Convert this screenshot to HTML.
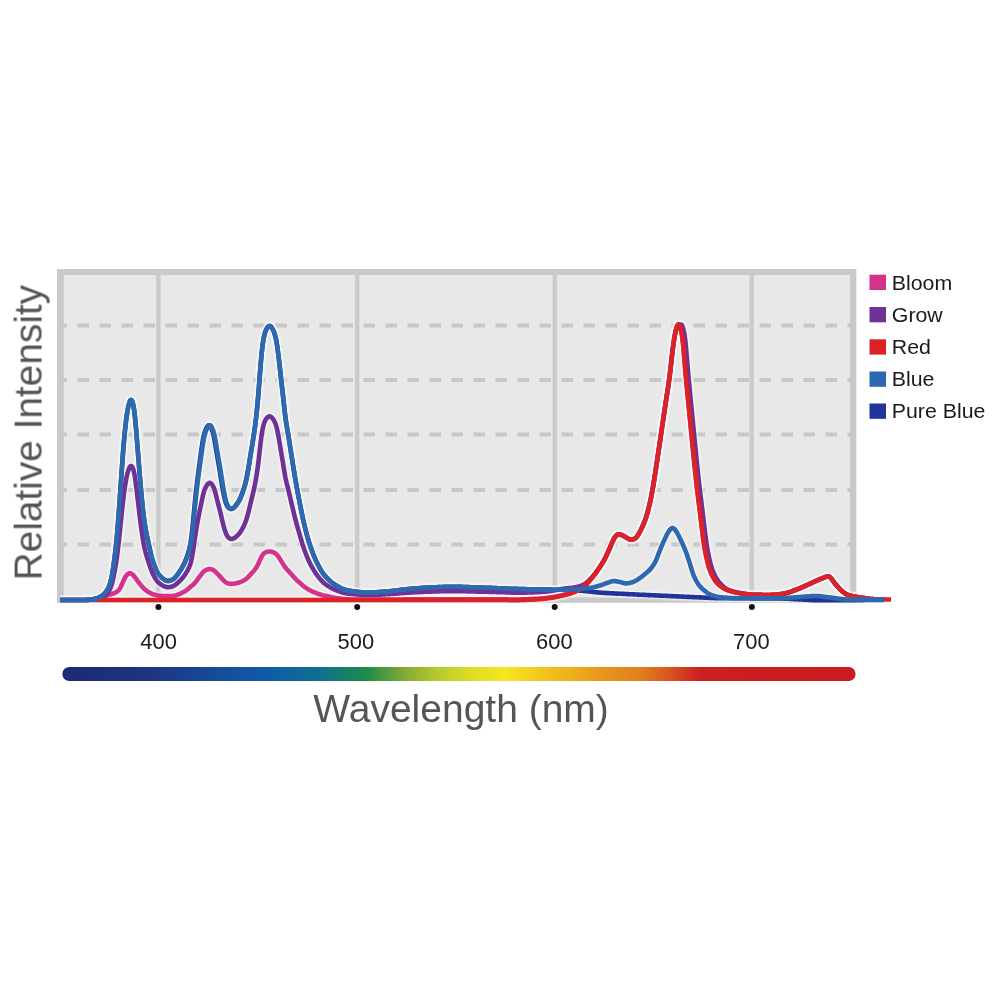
<!DOCTYPE html>
<html lang="en"><head><meta charset="utf-8"><title>Spectrum</title>
<style>
html,body{margin:0;padding:0;background:#fff;}
body{width:1000px;height:1000px;overflow:hidden;}
svg{display:block;font-family:"Liberation Sans",Arial,sans-serif;}
.curves use{fill:none;stroke-width:4.6;stroke-linejoin:round;stroke-linecap:butt;}
.halo use{fill:none;stroke:#fff;stroke-opacity:.4;stroke-width:7;stroke-linejoin:round;stroke-linecap:butt;}
.halo2 use{fill:none;stroke:#fff;stroke-opacity:.22;stroke-width:9.4;stroke-linejoin:round;stroke-linecap:butt;}
.dash line{stroke:#c8c8c8;stroke-width:4.2;stroke-dasharray:11.6 10.4;}
.vg line{stroke:#cbcbcb;stroke-width:4.4;}
.ticks text{font-size:21.5px;fill:#1a1a1a;text-anchor:middle;}
.legend text{font-size:20.4px;fill:#1a1a1a;}
.axis{font-size:39px;fill:#555557;}
</style></head><body>
<svg width="1000" height="1000" viewBox="0 0 1000 1000">
<defs>
<linearGradient id="spec" x1="0" y1="0" x2="1" y2="0" gradientUnits="objectBoundingBox">
<stop offset="0.000" stop-color="#1c2a74"/>
<stop offset="0.111" stop-color="#1d3582"/>
<stop offset="0.192" stop-color="#164b98"/>
<stop offset="0.264" stop-color="#0f5ca8"/>
<stop offset="0.325" stop-color="#0f7090"/>
<stop offset="0.383" stop-color="#1e8a48"/>
<stop offset="0.436" stop-color="#8aae34"/>
<stop offset="0.476" stop-color="#b8cc2c"/>
<stop offset="0.514" stop-color="#dcdc26"/>
<stop offset="0.558" stop-color="#f5e61f"/>
<stop offset="0.627" stop-color="#f0b81c"/>
<stop offset="0.678" stop-color="#e8981c"/>
<stop offset="0.728" stop-color="#e0801e"/>
<stop offset="0.769" stop-color="#d8501f"/>
<stop offset="0.804" stop-color="#cc1f22"/>
<stop offset="1.000" stop-color="#cb1b20"/>
</linearGradient>
<path id="c-pure" d="M60,600 60.5,600 61,600 61.5,600 62,600 62.5,600 63,600 63.5,600 64,600 64.5,600 65,600 65.5,600 66,600 66.5,600 67,600 67.5,600 68,600 68.5,600 69,600 69.5,600 70,600 70.5,600 71,600 71.5,600 72,600 72.5,600 73,600 73.5,600 74,600 74.5,600 75,600 75.5,600 76,600 76.5,600 77,600 77.5,600 78,600 78.5,600 79,600 79.5,600 80,600 80.5,600 81,600 81.5,600 82,600 82.5,600 83,600 83.5,600 84,600 84.5,600 85,600 85.5,600 86,600 86.5,600 87,599.9 87.5,599.9 88,599.9 88.5,599.8 89,599.8 89.5,599.7 90,599.6 90.5,599.6 91,599.5 91.5,599.4 92,599.3 92.5,599.3 93,599.2 93.5,599.1 94,599 94.5,598.9 95,598.8 95.5,598.7 96,598.5 96.5,598.4 97,598.3 97.5,598.1 98,597.9 98.5,597.7 99,597.5 99.5,597.3 100,597 100.5,596.7 101,596.5 101.5,596.2 102,595.8 102.5,595.4 103,595 103.5,594.6 104,594.1 104.5,593.6 105,593 105.5,592.4 106,591.8 106.5,591.1 107,590.3 107.5,589.5 108,588.6 108.5,587.5 109,586.3 109.5,585 110,583.5 110.5,581.8 111,579.9 111.5,577.6 112,575.1 112.5,572.2 113,569 113.5,565.6 114,562 114.5,558.3 115,554.4 115.5,550.2 116,545.6 116.5,540.7 117,535.3 117.5,529.5 118,523.3 118.5,516.8 119,510 119.5,502.9 120,495.8 120.5,488.6 121,481.3 121.5,474.1 122,466.9 122.5,459.8 123,453 123.5,446.6 124,440.7 124.5,435.2 125,430.2 125.5,425.5 126,421.2 126.5,417.3 127,413.8 127.5,410.7 128,408.1 128.5,405.8 129,403.9 129.5,402.3 130,401 130.5,400.2 131,400 131.5,400.2 132,401 132.5,402.2 133,403.9 133.5,406.1 134,409.1 134.5,412.8 135,417.3 135.5,422.7 136,428.4 136.5,434.5 137,440.6 137.5,446.8 138,453.1 138.5,459.4 139,465.7 139.5,472 140,478.1 140.5,484 141,489.7 141.5,495.2 142,500.5 142.5,505.5 143,510.2 143.5,514.6 144,518.6 144.5,522.1 145,525.4 145.5,528.3 146,531.1 146.5,533.7 147,536.1 147.5,538.5 148,540.8 148.5,543.2 149,545.5 149.5,547.7 150,550 150.5,552.2 151,554.3 151.5,556.3 152,558.1 152.5,559.8 153,561.4 153.5,562.9 154,564.3 154.5,565.7 155,567 155.5,568.2 156,569.4 156.5,570.5 157,571.5 157.5,572.4 158,573.3 158.5,574 159,574.7 159.5,575.3 160,575.8 160.5,576.4 161,576.9 161.5,577.4 162,577.8 162.5,578.3 163,578.7 163.5,579.1 164,579.4 164.5,579.8 165,580.1 165.5,580.3 166,580.5 166.5,580.7 167,580.8 167.5,580.9 168,580.9 168.5,580.9 169,580.8 169.5,580.7 170,580.6 170.5,580.4 171,580.3 171.5,580 172,579.8 172.5,579.6 173,579.3 173.5,578.9 174,578.6 174.5,578.1 175,577.6 175.5,577 176,576.4 176.5,575.8 177,575.1 177.5,574.5 178,573.8 178.5,573.1 179,572.3 179.5,571.6 180,570.9 180.5,570.1 181,569.3 181.5,568.4 182,567.6 182.5,566.7 183,565.7 183.5,564.8 184,563.7 184.5,562.7 185,561.6 185.5,560.4 186,559.2 186.5,557.9 187,556.6 187.5,555.1 188,553.6 188.5,551.9 189,550.1 189.5,548.1 190,545.7 190.5,543.1 191,539.9 191.5,536.2 192,532 192.5,527.3 193,522.3 193.5,517 194,511.7 194.5,506.4 195,501.2 195.5,496.3 196,491.6 196.5,487.2 197,483 197.5,479 198,475.1 198.5,471.2 199,467.5 199.5,463.8 200,460.1 200.5,456.4 201,452.7 201.5,449.1 202,445.6 202.5,442.3 203,439.4 203.5,436.9 204,434.8 204.5,433.1 205,431.5 205.5,430.2 206,428.9 206.5,427.9 207,426.9 207.5,426.2 208,425.6 208.5,425.3 209,425.3 209.5,425.4 210,425.9 210.5,426.5 211,427.4 211.5,428.5 212,429.8 212.5,431.3 213,432.9 213.5,434.9 214,437.3 214.5,440 215,443 215.5,446 216,449 216.5,451.9 217,454.8 217.5,457.7 218,460.6 218.5,463.5 219,466.4 219.5,469.4 220,472.5 220.5,475.6 221,478.8 221.5,482 222,485.1 222.5,488.1 223,490.8 223.5,493.4 224,495.8 224.5,498 225,499.9 225.5,501.7 226,503.2 226.5,504.5 227,505.6 227.5,506.4 228,507.1 228.5,507.7 229,508.1 229.5,508.5 230,508.7 230.5,508.9 231,508.9 231.5,508.8 232,508.7 232.5,508.5 233,508.2 233.5,507.8 234,507.3 234.5,506.8 235,506.3 235.5,505.6 236,505 236.5,504.3 237,503.6 237.5,502.9 238,502.2 238.5,501.4 239,500.5 239.5,499.6 240,498.5 240.5,497.4 241,496.2 241.5,494.9 242,493.6 242.5,492.2 243,490.8 243.5,489.3 244,487.7 244.5,486.1 245,484.3 245.5,482.4 246,480.3 246.5,478 247,475.5 247.5,472.9 248,470.1 248.5,467.1 249,464.1 249.5,461 250,457.9 250.5,454.8 251,451.8 251.5,448.9 252,445.9 252.5,442.8 253,439.7 253.5,436.5 254,433.2 254.5,429.8 255,426.1 255.5,422.2 256,418 256.5,413.6 257,408.8 257.5,403.6 258,398 258.5,392 259,385.6 259.5,379 260,372.5 260.5,366.2 261,360.3 261.5,354.8 262,349.9 262.5,345.7 263,342.1 263.5,339 264,336.5 264.5,334.5 265,332.7 265.5,331.3 266,330 266.5,329 267,328.1 267.5,327.4 268,326.7 268.5,326.3 269,326 269.5,325.9 270,326 270.5,326.3 271,326.7 271.5,327.3 272,328.1 272.5,328.9 273,329.8 273.5,330.9 274,332.1 274.5,333.6 275,335.2 275.5,337.1 276,339.3 276.5,341.9 277,344.8 277.5,348.3 278,352 278.5,356 279,360.2 279.5,364.6 280,369 280.5,373.5 281,378 281.5,382.5 282,386.9 282.5,391.3 283,395.8 283.5,400.4 284,405.1 284.5,409.7 285,414 285.5,417.9 286,421.4 286.5,424.6 287,427.6 287.5,430.5 288,433.5 288.5,436.5 289,439.6 289.5,442.8 290,446 290.5,449.2 291,452.4 291.5,455.6 292,458.7 292.5,461.8 293,465 293.5,468.1 294,471.2 294.5,474.2 295,477.3 295.5,480.2 296,483.1 296.5,486 297,488.7 297.5,491.4 298,494 298.5,496.5 299,499.1 299.5,501.6 300,504.1 300.5,506.7 301,509.2 301.5,511.8 302,514.2 302.5,516.6 303,519 303.5,521.2 304,523.4 304.5,525.5 305,527.5 305.5,529.5 306,531.5 306.5,533.4 307,535.3 307.5,537.1 308,538.8 308.5,540.6 309,542.2 309.5,543.8 310,545.3 310.5,546.8 311,548.3 311.5,549.7 312,551 312.5,552.4 313,553.7 313.5,554.9 314,556.1 314.5,557.3 315,558.4 315.5,559.5 316,560.6 316.5,561.7 317,562.7 317.5,563.7 318,564.7 318.5,565.7 319,566.7 319.5,567.6 320,568.5 320.5,569.4 321,570.3 321.5,571.1 322,571.9 322.5,572.7 323,573.4 323.5,574.1 324,574.7 324.5,575.3 325,575.9 325.5,576.5 326,577 326.5,577.6 327,578.1 327.5,578.6 328,579.1 328.5,579.6 329,580 329.5,580.5 330,580.9 330.5,581.4 331,581.8 331.5,582.2 332,582.6 332.5,582.9 333,583.3 333.5,583.7 334,584 334.5,584.3 335,584.7 335.5,585 336,585.3 336.5,585.6 337,585.9 337.5,586.2 338,586.5 338.5,586.8 339,587.1 339.5,587.4 340,587.6 340.5,587.9 341,588.2 341.5,588.4 342,588.6 342.5,588.9 343,589.1 343.5,589.3 344,589.4 344.5,589.6 345,589.7 345.5,589.9 346,590 346.5,590.1 347,590.2 347.5,590.3 348,590.4 348.5,590.5 349,590.6 349.5,590.7 350,590.7 350.5,590.8 351,590.9 351.5,591 352,591.1 352.5,591.2 353,591.2 353.5,591.3 354,591.4 354.5,591.5 355,591.5 355.5,591.6 356,591.7 356.5,591.7 357,591.8 357.5,591.8 358,591.9 358.5,592 359,592 359.5,592.1 360,592.1 360.5,592.2 361,592.2 361.5,592.2 362,592.3 362.5,592.3 363,592.3 363.5,592.4 364,592.4 364.5,592.4 365,592.4 365.5,592.5 366,592.5 366.5,592.5 367,592.5 367.5,592.5 368,592.5 368.5,592.5 369,592.5 369.5,592.5 370,592.5 370.5,592.5 371,592.5 371.5,592.4 372,592.4 372.5,592.4 373,592.4 373.5,592.4 374,592.3 374.5,592.3 375,592.3 375.5,592.3 376,592.2 376.5,592.2 377,592.2 377.5,592.1 378,592.1 378.5,592.1 379,592 379.5,592 380,592 380.5,591.9 381,591.9 381.5,591.9 382,591.8 382.5,591.8 383,591.7 383.5,591.7 384,591.7 384.5,591.6 385,591.6 385.5,591.6 386,591.5 386.5,591.5 387,591.4 387.5,591.4 388,591.4 388.5,591.3 389,591.3 389.5,591.2 390,591.2 390.5,591.1 391,591.1 391.5,591 392,590.9 392.5,590.9 393,590.8 393.5,590.8 394,590.7 394.5,590.7 395,590.6 395.5,590.5 396,590.5 396.5,590.4 397,590.4 397.5,590.3 398,590.2 398.5,590.2 399,590.1 399.5,590 400,590 400.5,589.9 401,589.9 401.5,589.8 402,589.7 402.5,589.7 403,589.6 403.5,589.6 404,589.5 404.5,589.5 405,589.4 405.5,589.3 406,589.3 406.5,589.2 407,589.2 407.5,589.1 408,589.1 408.5,589 409,589 409.5,588.9 410,588.9 410.5,588.9 411,588.8 411.5,588.8 412,588.7 412.5,588.7 413,588.6 413.5,588.6 414,588.6 414.5,588.5 415,588.5 415.5,588.4 416,588.4 416.5,588.4 417,588.3 417.5,588.3 418,588.2 418.5,588.2 419,588.2 419.5,588.1 420,588.1 420.5,588.1 421,588 421.5,588 422,588 422.5,587.9 423,587.9 423.5,587.9 424,587.8 424.5,587.8 425,587.8 425.5,587.7 426,587.7 426.5,587.7 427,587.6 427.5,587.6 428,587.6 428.5,587.6 429,587.5 429.5,587.5 430,587.5 430.5,587.5 431,587.5 431.5,587.4 432,587.4 432.5,587.4 433,587.4 433.5,587.3 434,587.3 434.5,587.3 435,587.3 435.5,587.3 436,587.2 436.5,587.2 437,587.2 437.5,587.2 438,587.1 438.5,587.1 439,587.1 439.5,587.1 440,587.1 440.5,587 441,587 441.5,587 442,587 442.5,587 443,587 443.5,586.9 444,586.9 444.5,586.9 445,586.9 445.5,586.9 446,586.9 446.5,586.9 447,586.9 447.5,586.8 448,586.8 448.5,586.8 449,586.8 449.5,586.8 450,586.8 450.5,586.8 451,586.8 451.5,586.8 452,586.8 452.5,586.8 453,586.8 453.5,586.8 454,586.8 454.5,586.8 455,586.8 455.5,586.8 456,586.8 456.5,586.8 457,586.8 457.5,586.8 458,586.9 458.5,586.9 459,586.9 459.5,586.9 460,586.9 460.5,586.9 461,586.9 461.5,586.9 462,586.9 462.5,586.9 463,587 463.5,587 464,587 464.5,587 465,587 465.5,587 466,587 466.5,587.1 467,587.1 467.5,587.1 468,587.1 468.5,587.1 469,587.1 469.5,587.2 470,587.2 470.5,587.2 471,587.2 471.5,587.2 472,587.2 472.5,587.3 473,587.3 473.5,587.3 474,587.3 474.5,587.3 475,587.3 475.5,587.4 476,587.4 476.5,587.4 477,587.4 477.5,587.4 478,587.4 478.5,587.5 479,587.5 479.5,587.5 480,587.5 480.5,587.5 481,587.5 481.5,587.5 482,587.6 482.5,587.6 483,587.6 483.5,587.6 484,587.6 484.5,587.7 485,587.7 485.5,587.7 486,587.7 486.5,587.7 487,587.7 487.5,587.8 488,587.8 488.5,587.8 489,587.8 489.5,587.8 490,587.9 490.5,587.9 491,587.9 491.5,587.9 492,588 492.5,588 493,588 493.5,588 494,588 494.5,588.1 495,588.1 495.5,588.1 496,588.1 496.5,588.1 497,588.2 497.5,588.2 498,588.2 498.5,588.2 499,588.3 499.5,588.3 500,588.3 500.5,588.3 501,588.3 501.5,588.4 502,588.4 502.5,588.4 503,588.4 503.5,588.5 504,588.5 504.5,588.5 505,588.5 505.5,588.5 506,588.6 506.5,588.6 507,588.6 507.5,588.6 508,588.6 508.5,588.7 509,588.7 509.5,588.7 510,588.7 510.5,588.7 511,588.7 511.5,588.8 512,588.8 512.5,588.8 513,588.8 513.5,588.8 514,588.8 514.5,588.9 515,588.9 515.5,588.9 516,588.9 516.5,588.9 517,588.9 517.5,588.9 518,589 518.5,589 519,589 519.5,589 520,589 520.5,589 521,589 521.5,589 522,589.1 522.5,589.1 523,589.1 523.5,589.1 524,589.1 524.5,589.1 525,589.1 525.5,589.1 526,589.1 526.5,589.2 527,589.2 527.5,589.2 528,589.2 528.5,589.2 529,589.2 529.5,589.2 530,589.2 530.5,589.2 531,589.2 531.5,589.3 532,589.3 532.5,589.3 533,589.3 533.5,589.3 534,589.3 534.5,589.3 535,589.3 535.5,589.3 536,589.3 536.5,589.4 537,589.4 537.5,589.4 538,589.4 538.5,589.4 539,589.4 539.5,589.4 540,589.4 540.5,589.4 541,589.4 541.5,589.4 542,589.5 542.5,589.5 543,589.5 543.5,589.5 544,589.5 544.5,589.5 545,589.5 545.5,589.5 546,589.5 546.5,589.5 547,589.5 547.5,589.6 548,589.6 548.5,589.6 549,589.6 549.5,589.6 550,589.6 550.5,589.6 551,589.6 551.5,589.6 552,589.6 552.5,589.7 553,589.7 553.5,589.7 554,589.7 554.5,589.7 555,589.7 555.5,589.7 556,589.7 556.5,589.7 557,589.7 557.5,589.7 558,589.8 558.5,589.8 559,589.8 559.5,589.8 560,589.8 560.5,589.8 561,589.8 561.5,589.8 562,589.8 562.5,589.8 563,589.8 563.5,589.8 564,589.9 564.5,589.9 565,589.9 565.5,589.9 566,589.9 566.5,589.9 567,589.9 567.5,589.9 568,589.9 568.5,590 569,590 569.5,590 570,590 570.5,590 571,590 571.5,590.1 572,590.1 572.5,590.1 573,590.1 573.5,590.2 574,590.2 574.5,590.2 575,590.2 575.5,590.3 576,590.3 576.5,590.3 577,590.4 577.5,590.4 578,590.5 578.5,590.5 579,590.5 579.5,590.6 580,590.6 580.5,590.6 581,590.7 581.5,590.7 582,590.8 582.5,590.8 583,590.9 583.5,590.9 584,591 584.5,591 585,591.1 585.5,591.1 586,591.2 586.5,591.2 587,591.3 587.5,591.3 588,591.4 588.5,591.4 589,591.5 589.5,591.5 590,591.6 590.5,591.7 591,591.7 591.5,591.8 592,591.8 592.5,591.9 593,591.9 593.5,592 594,592 594.5,592.1 595,592.2 595.5,592.2 596,592.3 596.5,592.3 597,592.4 597.5,592.4 598,592.4 598.5,592.5 599,592.5 599.5,592.6 600,592.6 600.5,592.6 601,592.7 601.5,592.7 602,592.7 602.5,592.8 603,592.8 603.5,592.8 604,592.9 604.5,592.9 605,592.9 605.5,593 606,593 606.5,593 607,593.1 607.5,593.1 608,593.1 608.5,593.1 609,593.2 609.5,593.2 610,593.2 610.5,593.2 611,593.3 611.5,593.3 612,593.3 612.5,593.4 613,593.4 613.5,593.4 614,593.4 614.5,593.5 615,593.5 615.5,593.5 616,593.5 616.5,593.6 617,593.6 617.5,593.6 618,593.6 618.5,593.7 619,593.7 619.5,593.7 620,593.7 620.5,593.7 621,593.8 621.5,593.8 622,593.8 622.5,593.8 623,593.9 623.5,593.9 624,593.9 624.5,593.9 625,594 625.5,594 626,594 626.5,594 627,594.1 627.5,594.1 628,594.1 628.5,594.1 629,594.2 629.5,594.2 630,594.2 630.5,594.2 631,594.2 631.5,594.3 632,594.3 632.5,594.3 633,594.3 633.5,594.4 634,594.4 634.5,594.4 635,594.4 635.5,594.5 636,594.5 636.5,594.5 637,594.5 637.5,594.6 638,594.6 638.5,594.6 639,594.6 639.5,594.7 640,594.7 640.5,594.7 641,594.7 641.5,594.8 642,594.8 642.5,594.8 643,594.8 643.5,594.8 644,594.9 644.5,594.9 645,594.9 645.5,594.9 646,595 646.5,595 647,595 647.5,595 648,595.1 648.5,595.1 649,595.1 649.5,595.1 650,595.1 650.5,595.2 651,595.2 651.5,595.2 652,595.2 652.5,595.3 653,595.3 653.5,595.3 654,595.3 654.5,595.4 655,595.4 655.5,595.4 656,595.4 656.5,595.4 657,595.5 657.5,595.5 658,595.5 658.5,595.5 659,595.6 659.5,595.6 660,595.6 660.5,595.6 661,595.6 661.5,595.7 662,595.7 662.5,595.7 663,595.7 663.5,595.8 664,595.8 664.5,595.8 665,595.8 665.5,595.8 666,595.9 666.5,595.9 667,595.9 667.5,595.9 668,596 668.5,596 669,596 669.5,596 670,596 670.5,596.1 671,596.1 671.5,596.1 672,596.1 672.5,596.2 673,596.2 673.5,596.2 674,596.2 674.5,596.3 675,596.3 675.5,596.3 676,596.3 676.5,596.3 677,596.4 677.5,596.4 678,596.4 678.5,596.4 679,596.5 679.5,596.5 680,596.5 680.5,596.5 681,596.5 681.5,596.6 682,596.6 682.5,596.6 683,596.6 683.5,596.7 684,596.7 684.5,596.7 685,596.7 685.5,596.8 686,596.8 686.5,596.8 687,596.8 687.5,596.8 688,596.9 688.5,596.9 689,596.9 689.5,596.9 690,597 690.5,597 691,597 691.5,597 692,597 692.5,597.1 693,597.1 693.5,597.1 694,597.1 694.5,597.2 695,597.2 695.5,597.2 696,597.2 696.5,597.2 697,597.3 697.5,597.3 698,597.3 698.5,597.3 699,597.4 699.5,597.4 700,597.4 700.5,597.4 701,597.4 701.5,597.5 702,597.5 702.5,597.5 703,597.5 703.5,597.6 704,597.6 704.5,597.6 705,597.6 705.5,597.7 706,597.7 706.5,597.7 707,597.7 707.5,597.8 708,597.8 708.5,597.8 709,597.8 709.5,597.9 710,597.9 710.5,597.9 711,597.9 711.5,597.9 712,598 712.5,598 713,598 713.5,598 714,598 714.5,598.1 715,598.1 715.5,598.1 716,598.1 716.5,598.1 717,598.1 717.5,598.2 718,598.2 718.5,598.2 719,598.2 719.5,598.2 720,598.2 720.5,598.2 721,598.2 721.5,598.2 722,598.2 722.5,598.2 723,598.2 723.5,598.2 724,598.2 724.5,598.2 725,598.2 725.5,598.2 726,598.3 726.5,598.3 727,598.3 727.5,598.3 728,598.3 728.5,598.3 729,598.3 729.5,598.3 730,598.3 730.5,598.3 731,598.3 731.5,598.3 732,598.3 732.5,598.3 733,598.3 733.5,598.3 734,598.3 734.5,598.3 735,598.3 735.5,598.3 736,598.3 736.5,598.3 737,598.3 737.5,598.3 738,598.3 738.5,598.3 739,598.3 739.5,598.3 740,598.3 740.5,598.3 741,598.3 741.5,598.3 742,598.3 742.5,598.3 743,598.3 743.5,598.3 744,598.3 744.5,598.3 745,598.3 745.5,598.3 746,598.3 746.5,598.3 747,598.3 747.5,598.3 748,598.3 748.5,598.3 749,598.3 749.5,598.3 750,598.3 750.5,598.3 751,598.4 751.5,598.4 752,598.4 752.5,598.4 753,598.4 753.5,598.4 754,598.4 754.5,598.4 755,598.4 755.5,598.4 756,598.4 756.5,598.4 757,598.4 757.5,598.4 758,598.4 758.5,598.4 759,598.4 759.5,598.4 760,598.4 760.5,598.4 761,598.4 761.5,598.4 762,598.4 762.5,598.4 763,598.4 763.5,598.4 764,598.4 764.5,598.4 765,598.4 765.5,598.4 766,598.4 766.5,598.4 767,598.4 767.5,598.4 768,598.4 768.5,598.4 769,598.4 769.5,598.4 770,598.4 770.5,598.4 771,598.4 771.5,598.4 772,598.4 772.5,598.4 773,598.4 773.5,598.4 774,598.4 774.5,598.5 775,598.5 775.5,598.5 776,598.5 776.5,598.5 777,598.5 777.5,598.5 778,598.5 778.5,598.5 779,598.5 779.5,598.5 780,598.5 780.5,598.5 781,598.5 781.5,598.5 782,598.5 782.5,598.5 783,598.6 783.5,598.6 784,598.6 784.5,598.6 785,598.6 785.5,598.6 786,598.7 786.5,598.7 787,598.7 787.5,598.7 788,598.8 788.5,598.8 789,598.8 789.5,598.8 790,598.9 790.5,598.9 791,598.9 791.5,598.9 792,599 792.5,599 793,599 793.5,599.1 794,599.1 794.5,599.1 795,599.1 795.5,599.2 796,599.2 796.5,599.2 797,599.3 797.5,599.3 798,599.3 798.5,599.3 799,599.4 799.5,599.4 800,599.4 800.5,599.4 801,599.4 801.5,599.5 802,599.5 802.5,599.5 803,599.6 803.5,599.6 804,599.6 804.5,599.6 805,599.7 805.5,599.7 806,599.7 806.5,599.8 807,599.8 807.5,599.8 808,599.8 808.5,599.9 809,599.9 809.5,599.9 810,600 810.5,600 811,600 811.5,600 812,600.1 812.5,600.1 813,600.1 813.5,600.1 814,600.2 814.5,600.2 815,600.2 815.5,600.2 816,600.2 816.5,600.2 817,600.3 817.5,600.3 818,600.3 818.5,600.3 819,600.3 819.5,600.3 820,600.3 820.5,600.3 821,600.3 821.5,600.3 822,600.3 822.5,600.3 823,600.3 823.5,600.3 824,600.3 824.5,600.3 825,600.3 825.5,600.3 826,600.3 826.5,600.3 827,600.3 827.5,600.3 828,600.3 828.5,600.3 829,600.3 829.5,600.3 830,600.3 830.5,600.3 831,600.3 831.5,600.3 832,600.3 832.5,600.3 833,600.3 833.5,600.3 834,600.3 834.5,600.3 835,600.3 835.5,600.3 836,600.3 836.5,600.3 837,600.3 837.5,600.3 838,600.3 838.5,600.3 839,600.3 839.5,600.3 840,600.3 840.5,600.3 841,600.3 841.5,600.3 842,600.3 842.5,600.3 843,600.3 843.5,600.3 844,600.3 844.5,600.3 845,600.3 845.5,600.3 846,600.3 846.5,600.3 847,600.3 847.5,600.3 848,600.3 848.5,600.3 849,600.3 849.5,600.3 850,600.3 850.5,600.3 851,600.3 851.5,600.3 852,600.3 852.5,600.3 853,600.3 853.5,600.3 854,600.3 854.5,600.3 855,600.3 855.5,600.2 856,600.2 856.5,600.2 857,600.2 857.5,600.2 858,600.2 858.5,600.2 859,600.2 859.5,600.2 860,600.2 860.5,600.1 861,600.1 861.5,600.1 862,600.1 862.5,600.1 863,600.1 863.5,600.1 864,600.1 864.5,600.1 865,600 865.5,600 866,600 866.5,600 867,600 867.5,600 868,600 868.5,600 869,600 869.5,600 870,600 870.5,600 871,600 871.5,600 872,600 872.5,600 873,600 873.5,600 874,600 874.5,600 875,600 875.5,600 876,600 876.5,600 877,600 877.5,600 878,600 878.5,600 879,600 879.5,600 880,600 880.5,600 881,600 881.5,600 882,600 882.5,600 883,600 883.5,600 884,600"/>
<path id="c-bloom" d="M60,600 60.5,600 61,600 61.5,600 62,600 62.5,600 63,600 63.5,600 64,600 64.5,600 65,600 65.5,600 66,600 66.5,600 67,600 67.5,600 68,600 68.5,600 69,600 69.5,600 70,600 70.5,600 71,600 71.5,600 72,600 72.5,600 73,600 73.5,600 74,600 74.5,600 75,600 75.5,600 76,600 76.5,600 77,600 77.5,600 78,600 78.5,600 79,600 79.5,600 80,600 80.5,600 81,600 81.5,600 82,600 82.5,600 83,600 83.5,600 84,600 84.5,600 85,600 85.5,600 86,600 86.5,600 87,600 87.5,600 88,600 88.5,600 89,600 89.5,600 90,600 90.5,600 91,600 91.5,600 92,600 92.5,600 93,600 93.5,600 94,600 94.5,600 95,600 95.5,599.9 96,599.9 96.5,599.8 97,599.7 97.5,599.5 98,599.3 98.5,599.2 99,599 99.5,598.8 100,598.6 100.5,598.4 101,598.2 101.5,598 102,597.8 102.5,597.5 103,597.3 103.5,597.1 104,596.8 104.5,596.5 105,596.3 105.5,596.1 106,595.8 106.5,595.6 107,595.4 107.5,595.2 108,595.1 108.5,594.9 109,594.8 109.5,594.6 110,594.5 110.5,594.4 111,594.2 111.5,594.1 112,593.9 112.5,593.8 113,593.6 113.5,593.4 114,593.2 114.5,593 115,592.8 115.5,592.6 116,592.3 116.5,592 117,591.7 117.5,591.3 118,590.9 118.5,590.3 119,589.7 119.5,589 120,588.2 120.5,587.4 121,586.4 121.5,585.4 122,584.4 122.5,583.2 123,582 123.5,580.8 124,579.6 124.5,578.6 125,577.6 125.5,576.8 126,576 126.5,575.4 127,574.8 127.5,574.3 128,573.9 128.5,573.6 129,573.4 129.5,573.2 130,573.2 130.5,573.3 131,573.5 131.5,573.8 132,574.1 132.5,574.5 133,575 133.5,575.5 134,576.1 134.5,576.7 135,577.3 135.5,578 136,578.7 136.5,579.4 137,580.1 137.5,580.8 138,581.5 138.5,582.2 139,582.8 139.5,583.5 140,584.1 140.5,584.7 141,585.3 141.5,585.9 142,586.5 142.5,587.1 143,587.6 143.5,588.1 144,588.6 144.5,589 145,589.5 145.5,589.9 146,590.3 146.5,590.7 147,591.1 147.5,591.4 148,591.8 148.5,592.1 149,592.4 149.5,592.6 150,592.9 150.5,593.1 151,593.4 151.5,593.6 152,593.8 152.5,594 153,594.2 153.5,594.3 154,594.5 154.5,594.7 155,594.8 155.5,594.9 156,595 156.5,595.2 157,595.3 157.5,595.4 158,595.5 158.5,595.6 159,595.7 159.5,595.8 160,595.8 160.5,595.9 161,595.9 161.5,596 162,596 162.5,596 163,596 163.5,596 164,596 164.5,596 165,596 165.5,596 166,596 166.5,596 167,596 167.5,596 168,596 168.5,596 169,596 169.5,596 170,596 170.5,596 171,596 171.5,596 172,596 172.5,596 173,596 173.5,595.9 174,595.9 174.5,595.8 175,595.7 175.5,595.5 176,595.4 176.5,595.2 177,595 177.5,594.8 178,594.6 178.5,594.4 179,594.2 179.5,594 180,593.8 180.5,593.6 181,593.3 181.5,593.1 182,592.9 182.5,592.6 183,592.3 183.5,592.1 184,591.8 184.5,591.5 185,591.2 185.5,590.9 186,590.5 186.5,590.2 187,589.8 187.5,589.4 188,589 188.5,588.6 189,588.1 189.5,587.7 190,587.3 190.5,586.8 191,586.4 191.5,585.9 192,585.5 192.5,585.2 193,584.8 193.5,584.4 194,583.9 194.5,583.4 195,582.8 195.5,582.2 196,581.6 196.5,580.9 197,580.2 197.5,579.5 198,578.8 198.5,578.1 199,577.5 199.5,576.8 200,576.1 200.5,575.5 201,574.8 201.5,574.2 202,573.5 202.5,572.9 203,572.3 203.5,571.8 204,571.3 204.5,570.9 205,570.6 205.5,570.3 206,570.1 206.5,569.8 207,569.6 207.5,569.5 208,569.3 208.5,569.2 209,569.1 209.5,569.1 210,569.1 210.5,569.1 211,569.2 211.5,569.3 212,569.5 212.5,569.7 213,569.9 213.5,570.2 214,570.5 214.5,570.9 215,571.3 215.5,571.8 216,572.3 216.5,572.8 217,573.4 217.5,573.9 218,574.4 218.5,574.9 219,575.4 219.5,576 220,576.5 220.5,577 221,577.6 221.5,578.1 222,578.7 222.5,579.3 223,579.8 223.5,580.4 224,580.8 224.5,581.3 225,581.7 225.5,582.1 226,582.4 226.5,582.7 227,583 227.5,583.2 228,583.4 228.5,583.5 229,583.6 229.5,583.7 230,583.8 230.5,583.8 231,583.9 231.5,583.9 232,583.9 232.5,583.8 233,583.8 233.5,583.8 234,583.7 234.5,583.6 235,583.5 235.5,583.4 236,583.3 236.5,583.2 237,583.1 237.5,582.9 238,582.8 238.5,582.7 239,582.5 239.5,582.4 240,582.2 240.5,582 241,581.8 241.5,581.6 242,581.3 242.5,581.1 243,580.8 243.5,580.6 244,580.3 244.5,580 245,579.7 245.5,579.4 246,579 246.5,578.6 247,578.2 247.5,577.7 248,577.2 248.5,576.7 249,576.2 249.5,575.6 250,575.1 250.5,574.5 251,574 251.5,573.4 252,572.9 252.5,572.3 253,571.8 253.5,571.2 254,570.6 254.5,570 255,569.4 255.5,568.7 256,568 256.5,567.2 257,566.3 257.5,565.4 258,564.4 258.5,563.4 259,562.2 259.5,561.1 260,559.9 260.5,558.8 261,557.7 261.5,556.7 262,555.8 262.5,555.1 263,554.4 263.5,553.9 264,553.4 264.5,553 265,552.7 265.5,552.4 266,552.2 266.5,552 267,551.9 267.5,551.7 268,551.6 268.5,551.5 269,551.5 269.5,551.5 270,551.5 270.5,551.5 271,551.6 271.5,551.7 272,551.9 272.5,552 273,552.2 273.5,552.4 274,552.6 274.5,552.8 275,553.1 275.5,553.5 276,553.8 276.5,554.3 277,554.8 277.5,555.4 278,556.1 278.5,556.8 279,557.6 279.5,558.3 280,559.1 280.5,559.9 281,560.7 281.5,561.5 282,562.3 282.5,563.1 283,563.9 283.5,564.7 284,565.5 284.5,566.3 285,567.1 285.5,567.8 286,568.4 286.5,568.9 287,569.5 287.5,570 288,570.5 288.5,571.1 289,571.6 289.5,572.2 290,572.7 290.5,573.3 291,573.9 291.5,574.4 292,575 292.5,575.5 293,576.1 293.5,576.6 294,577.2 294.5,577.7 295,578.3 295.5,578.8 296,579.3 296.5,579.8 297,580.3 297.5,580.8 298,581.2 298.5,581.7 299,582.1 299.5,582.6 300,583 300.5,583.5 301,583.9 301.5,584.4 302,584.8 302.5,585.2 303,585.7 303.5,586.1 304,586.4 304.5,586.8 305,587.2 305.5,587.5 306,587.9 306.5,588.2 307,588.5 307.5,588.9 308,589.2 308.5,589.5 309,589.8 309.5,590.1 310,590.3 310.5,590.6 311,590.8 311.5,591.1 312,591.3 312.5,591.6 313,591.8 313.5,592 314,592.2 314.5,592.4 315,592.6 315.5,592.8 316,593 316.5,593.2 317,593.4 317.5,593.6 318,593.8 318.5,593.9 319,594.1 319.5,594.3 320,594.4 320.5,594.6 321,594.7 321.5,594.9 322,595 322.5,595.2 323,595.3 323.5,595.4 324,595.5 324.5,595.6 325,595.7 325.5,595.8 326,595.9 326.5,596 327,596.1 327.5,596.2 328,596.3 328.5,596.4 329,596.6 329.5,596.7 330,596.8 330.5,596.9 331,597.1 331.5,597.2 332,597.3 332.5,597.4 333,597.5 333.5,597.6 334,597.7 334.5,597.8 335,597.8 335.5,597.9 336,598 336.5,598.1 337,598.2 337.5,598.2 338,598.3 338.5,598.4 339,598.4 339.5,598.5 340,598.6 340.5,598.6 341,598.7 341.5,598.8 342,598.8 342.5,598.9 343,598.9 343.5,599 344,599 344.5,599 345,599.1 345.5,599.1 346,599.2 346.5,599.2 347,599.2 347.5,599.3 348,599.3 348.5,599.3 349,599.4 349.5,599.4 350,599.4 350.5,599.4 351,599.5 351.5,599.5 352,599.5 352.5,599.5 353,599.5 353.5,599.5 354,599.5 354.5,599.5 355,599.6 355.5,599.6 356,599.6 356.5,599.6 357,599.6 357.5,599.6 358,599.6 358.5,599.6 359,599.6 359.5,599.6 360,599.6 360.5,599.6 361,599.6 361.5,599.6 362,599.6 362.5,599.6 363,599.6 363.5,599.6 364,599.6 364.5,599.6 365,599.6 365.5,599.6 366,599.6 366.5,599.6 367,599.6 367.5,599.6 368,599.6 368.5,599.6 369,599.6 369.5,599.6 370,599.6 370.5,599.6 371,599.6 371.5,599.6 372,599.6 372.5,599.6 373,599.6 373.5,599.6 374,599.6 374.5,599.6 375,599.6 375.5,599.6 376,599.6 376.5,599.6 377,599.6 377.5,599.6 378,599.6 378.5,599.6 379,599.6 379.5,599.6 380,599.6 380.5,599.6 381,599.6 381.5,599.6 382,599.6 382.5,599.6 383,599.6 383.5,599.6 384,599.6 384.5,599.6 385,599.6 385.5,599.6 386,599.5 386.5,599.5 387,599.5 387.5,599.5 388,599.5 388.5,599.5 389,599.5 389.5,599.5 390,599.5 390.5,599.5 391,599.5 391.5,599.5 392,599.5 392.5,599.5 393,599.5 393.5,599.5 394,599.5 394.5,599.5 395,599.5 395.5,599.5 396,599.5 396.5,599.5 397,599.5 397.5,599.5 398,599.5 398.5,599.5 399,599.5 399.5,599.5 400,599.5 400.5,599.5 401,599.5 401.5,599.5 402,599.5 402.5,599.5 403,599.4 403.5,599.4 404,599.4 404.5,599.4 405,599.4 405.5,599.4 406,599.4 406.5,599.4 407,599.4 407.5,599.4 408,599.4 408.5,599.4 409,599.4 409.5,599.4 410,599.4 410.5,599.4 411,599.4 411.5,599.4 412,599.4 412.5,599.4 413,599.4 413.5,599.4 414,599.4 414.5,599.4 415,599.4 415.5,599.4 416,599.4 416.5,599.4 417,599.4 417.5,599.4 418,599.4 418.5,599.4 419,599.4 419.5,599.4 420,599.4 420.5,599.4 421,599.4 421.5,599.4 422,599.4 422.5,599.4 423,599.4 423.5,599.4 424,599.4 424.5,599.4 425,599.4 425.5,599.3 426,599.3 426.5,599.3 427,599.3 427.5,599.3 428,599.3 428.5,599.3 429,599.3 429.5,599.3 430,599.3 430.5,599.3 431,599.3 431.5,599.3 432,599.3 432.5,599.3 433,599.3 433.5,599.3 434,599.3 434.5,599.3 435,599.3 435.5,599.3 436,599.3 436.5,599.3 437,599.3 437.5,599.3 438,599.3 438.5,599.3 439,599.3 439.5,599.3 440,599.3 440.5,599.3 441,599.3 441.5,599.3 442,599.3 442.5,599.3 443,599.3 443.5,599.3 444,599.3 444.5,599.3 445,599.3 445.5,599.3 446,599.3 446.5,599.3 447,599.3 447.5,599.3 448,599.3 448.5,599.3 449,599.3 449.5,599.3 450,599.3 450.5,599.3 451,599.3 451.5,599.3 452,599.3 452.5,599.3 453,599.3 453.5,599.3 454,599.3 454.5,599.3 455,599.3 455.5,599.3 456,599.3 456.5,599.3 457,599.3 457.5,599.3 458,599.3 458.5,599.3 459,599.3 459.5,599.3 460,599.3 460.5,599.3 461,599.3 461.5,599.3 462,599.3 462.5,599.3 463,599.3 463.5,599.3 464,599.3 464.5,599.3 465,599.3 465.5,599.3 466,599.3 466.5,599.3 467,599.3 467.5,599.3 468,599.3 468.5,599.3 469,599.3 469.5,599.3 470,599.3 470.5,599.3 471,599.3 471.5,599.3 472,599.3 472.5,599.3 473,599.3 473.5,599.3 474,599.3 474.5,599.3 475,599.3 475.5,599.3 476,599.3 476.5,599.3 477,599.3 477.5,599.3 478,599.3 478.5,599.3 479,599.3 479.5,599.3 480,599.3 480.5,599.3 481,599.3 481.5,599.3 482,599.3 482.5,599.3 483,599.3 483.5,599.3 484,599.3 484.5,599.3 485,599.3 485.5,599.3 486,599.3 486.5,599.3 487,599.3 487.5,599.4 488,599.4 488.5,599.4 489,599.4 489.5,599.4 490,599.4 490.5,599.4 491,599.4 491.5,599.4 492,599.4 492.5,599.4 493,599.4 493.5,599.4 494,599.4 494.5,599.4 495,599.4 495.5,599.4 496,599.4 496.5,599.4 497,599.4 497.5,599.4 498,599.4 498.5,599.4 499,599.4 499.5,599.4 500,599.4 500.5,599.4 501,599.4 501.5,599.4 502,599.4 502.5,599.4 503,599.4 503.5,599.4 504,599.4 504.5,599.4 505,599.4 505.5,599.4 506,599.4 506.5,599.4 507,599.4 507.5,599.4 508,599.4 508.5,599.5 509,599.5 509.5,599.5 510,599.5 510.5,599.5 511,599.5 511.5,599.5 512,599.5 512.5,599.5 513,599.5 513.5,599.5 514,599.5 514.5,599.5 515,599.5 515.5,599.5 516,599.5 516.5,599.5 517,599.5 517.5,599.5 518,599.5 518.5,599.5 519,599.5 519.5,599.5 520,599.5 520.5,599.5 521,599.4 521.5,599.4 522,599.4 522.5,599.4 523,599.4 523.5,599.4 524,599.4 524.5,599.3 525,599.3 525.5,599.3 526,599.3 526.5,599.3 527,599.2 527.5,599.2 528,599.2 528.5,599.2 529,599.2 529.5,599.1 530,599.1 530.5,599.1 531,599.1 531.5,599.1 532,599 532.5,599 533,599 533.5,599 534,598.9 534.5,598.9 535,598.9 535.5,598.9 536,598.8 536.5,598.8 537,598.8 537.5,598.7 538,598.7 538.5,598.7 539,598.6 539.5,598.6 540,598.6 540.5,598.5 541,598.5 541.5,598.5 542,598.4 542.5,598.4 543,598.3 543.5,598.3 544,598.2 544.5,598.2 545,598.1 545.5,598.1 546,598 546.5,598 547,597.9 547.5,597.8 548,597.8 548.5,597.7 549,597.6 549.5,597.6 550,597.5 550.5,597.4 551,597.3 551.5,597.2 552,597.2 552.5,597.1 553,597 553.5,596.9 554,596.8 554.5,596.7 555,596.7 555.5,596.6 556,596.5 556.5,596.4 557,596.3 557.5,596.2 558,596.1 558.5,596 559,595.9 559.5,595.8 560,595.6 560.5,595.5 561,595.4 561.5,595.3 562,595.2 562.5,595.1 563,595 563.5,594.8 564,594.7 564.5,594.6 565,594.5 565.5,594.4 566,594.2 566.5,594.1 567,594 567.5,593.9 568,593.7 568.5,593.6 569,593.5 569.5,593.3 570,593.2 570.5,593 571,592.9 571.5,592.7 572,592.6 572.5,592.4 573,592.2 573.5,592 574,591.9 574.5,591.7 575,591.5 575.5,591.2 576,591 576.5,590.8 577,590.6 577.5,590.3 578,590.1 578.5,589.8 579,589.6 579.5,589.3 580,589 580.5,588.7 581,588.4 581.5,588.1 582,587.8 582.5,587.4 583,587.1 583.5,586.7 584,586.3 584.5,585.9 585,585.5 585.5,585.1 586,584.6 586.5,584.1 587,583.6 587.5,583.1 588,582.6 588.5,582 589,581.4 589.5,580.8 590,580.2 590.5,579.6 591,579 591.5,578.4 592,577.8 592.5,577.2 593,576.6 593.5,575.9 594,575.3 594.5,574.6 595,574 595.5,573.3 596,572.6 596.5,571.9 597,571.2 597.5,570.5 598,569.8 598.5,569 599,568.3 599.5,567.6 600,566.8 600.5,566 601,565.2 601.5,564.5 602,563.7 602.5,562.8 603,562 603.5,561.2 604,560.3 604.5,559.4 605,558.4 605.5,557.5 606,556.4 606.5,555.4 607,554.3 607.5,553.2 608,552.1 608.5,550.9 609,549.8 609.5,548.6 610,547.5 610.5,546.3 611,545.1 611.5,543.9 612,542.8 612.5,541.7 613,540.6 613.5,539.6 614,538.6 614.5,537.8 615,537 615.5,536.4 616,535.8 616.5,535.4 617,535 617.5,534.7 618,534.5 618.5,534.4 619,534.3 619.5,534.4 620,534.5 620.5,534.7 621,534.8 621.5,535 622,535.2 622.5,535.4 623,535.7 623.5,535.9 624,536.2 624.5,536.4 625,536.7 625.5,537 626,537.4 626.5,537.7 627,538 627.5,538.3 628,538.6 628.5,538.8 629,539.1 629.5,539.3 630,539.4 630.5,539.5 631,539.6 631.5,539.6 632,539.6 632.5,539.5 633,539.4 633.5,539.2 634,539 634.5,538.8 635,538.5 635.5,538.1 636,537.7 636.5,537.1 637,536.5 637.5,535.8 638,535 638.5,534.2 639,533.3 639.5,532.4 640,531.5 640.5,530.5 641,529.6 641.5,528.6 642,527.5 642.5,526.5 643,525.3 643.5,524.2 644,523 644.5,521.7 645,520.4 645.5,519 646,517.5 646.5,515.9 647,514.3 647.5,512.6 648,510.7 648.5,508.8 649,506.8 649.5,504.7 650,502.5 650.5,500.1 651,497.7 651.5,495.2 652,492.5 652.5,489.8 653,487 653.5,484 654,481 654.5,477.8 655,474.6 655.5,471.3 656,468 656.5,464.7 657,461.3 657.5,458 658,454.7 658.5,451.4 659,448 659.5,444.6 660,441.3 660.5,437.9 661,434.5 661.5,431.1 662,427.7 662.5,424.3 663,420.9 663.5,417.4 664,414.1 664.5,410.7 665,407.3 665.5,404 666,400.8 666.5,397.5 667,394.4 667.5,391.2 668,387.9 668.5,384.6 669,381 669.5,377.1 670,373.1 670.5,368.8 671,364.4 671.5,360 672,355.6 672.5,351.4 673,347.3 673.5,343.5 674,340.1 674.5,337 675,334.4 675.5,332 676,329.9 676.5,328.1 677,326.6 677.5,325.4 678,324.7 678.5,324.5 679,324.8 679.5,325.7 680,326.9 680.5,328.5 681,330.4 681.5,332.6 682,335.3 682.5,338.8 683,343.2 683.5,348.4 684,354.3 684.5,360.4 685,366.4 685.5,372.2 686,377.7 686.5,383.1 687,388.4 687.5,393.7 688,398.8 688.5,403.9 689,409 689.5,414.1 690,419.2 690.5,424.3 691,429.4 691.5,434.5 692,439.6 692.5,444.8 693,449.9 693.5,454.9 694,459.9 694.5,464.8 695,469.7 695.5,474.4 696,479.1 696.5,483.6 697,488 697.5,492.1 698,496.2 698.5,500.1 699,504.1 699.5,508.1 700,512.2 700.5,516.4 701,520.7 701.5,524.9 702,529 702.5,533.1 703,537 703.5,540.6 704,544 704.5,547.1 705,550 705.5,552.7 706,555.2 706.5,557.6 707,559.8 707.5,561.9 708,563.9 708.5,565.7 709,567.4 709.5,568.9 710,570.3 710.5,571.6 711,572.8 711.5,574 712,575 712.5,576 713,577 713.5,577.9 714,578.7 714.5,579.5 715,580.2 715.5,580.9 716,581.6 716.5,582.2 717,582.8 717.5,583.3 718,583.8 718.5,584.3 719,584.8 719.5,585.2 720,585.6 720.5,586 721,586.4 721.5,586.8 722,587.1 722.5,587.5 723,587.8 723.5,588.1 724,588.4 724.5,588.7 725,589 725.5,589.2 726,589.5 726.5,589.7 727,589.9 727.5,590.1 728,590.3 728.5,590.5 729,590.6 729.5,590.8 730,590.9 730.5,591.1 731,591.2 731.5,591.4 732,591.5 732.5,591.6 733,591.8 733.5,591.9 734,592 734.5,592.1 735,592.2 735.5,592.3 736,592.4 736.5,592.5 737,592.6 737.5,592.7 738,592.8 738.5,592.9 739,593 739.5,593 740,593.1 740.5,593.2 741,593.3 741.5,593.4 742,593.4 742.5,593.5 743,593.6 743.5,593.7 744,593.8 744.5,593.8 745,593.9 745.5,594 746,594 746.5,594.1 747,594.2 747.5,594.2 748,594.3 748.5,594.3 749,594.4 749.5,594.4 750,594.5 750.5,594.5 751,594.6 751.5,594.6 752,594.6 752.5,594.7 753,594.7 753.5,594.7 754,594.8 754.5,594.8 755,594.8 755.5,594.8 756,594.8 756.5,594.8 757,594.8 757.5,594.9 758,594.9 758.5,594.9 759,594.9 759.5,594.9 760,594.9 760.5,594.9 761,594.9 761.5,594.9 762,594.9 762.5,595 763,595 763.5,595 764,595 764.5,595 765,595 765.5,595 766,595 766.5,595 767,595 767.5,595 768,595 768.5,595 769,595 769.5,595 770,595 770.5,595 771,594.9 771.5,594.9 772,594.9 772.5,594.9 773,594.8 773.5,594.8 774,594.8 774.5,594.7 775,594.7 775.5,594.6 776,594.6 776.5,594.5 777,594.5 777.5,594.4 778,594.4 778.5,594.3 779,594.3 779.5,594.2 780,594.2 780.5,594.1 781,594.1 781.5,594 782,593.9 782.5,593.9 783,593.8 783.5,593.7 784,593.6 784.5,593.5 785,593.4 785.5,593.3 786,593.2 786.5,593.1 787,592.9 787.5,592.8 788,592.7 788.5,592.5 789,592.3 789.5,592.2 790,592 790.5,591.8 791,591.6 791.5,591.5 792,591.3 792.5,591.1 793,590.9 793.5,590.7 794,590.5 794.5,590.4 795,590.2 795.5,590 796,589.8 796.5,589.6 797,589.4 797.5,589.2 798,589 798.5,588.8 799,588.6 799.5,588.4 800,588.2 800.5,588 801,587.8 801.5,587.6 802,587.3 802.5,587.1 803,586.9 803.5,586.7 804,586.5 804.5,586.2 805,586 805.5,585.8 806,585.5 806.5,585.3 807,585.1 807.5,584.9 808,584.6 808.5,584.4 809,584.2 809.5,584 810,583.7 810.5,583.5 811,583.3 811.5,583.1 812,582.8 812.5,582.6 813,582.4 813.5,582.1 814,581.9 814.5,581.6 815,581.4 815.5,581.2 816,580.9 816.5,580.7 817,580.5 817.5,580.2 818,580 818.5,579.8 819,579.6 819.5,579.4 820,579.2 820.5,579 821,578.8 821.5,578.6 822,578.4 822.5,578.2 823,578 823.5,577.8 824,577.6 824.5,577.4 825,577.2 825.5,577 826,576.9 826.5,576.7 827,576.6 827.5,576.5 828,576.5 828.5,576.6 829,576.7 829.5,576.9 830,577.3 830.5,577.7 831,578.2 831.5,578.8 832,579.5 832.5,580.2 833,580.9 833.5,581.6 834,582.3 834.5,582.9 835,583.6 835.5,584.2 836,584.7 836.5,585.3 837,585.9 837.5,586.5 838,587.1 838.5,587.6 839,588.2 839.5,588.7 840,589.3 840.5,589.8 841,590.2 841.5,590.7 842,591.1 842.5,591.5 843,591.9 843.5,592.3 844,592.7 844.5,593 845,593.4 845.5,593.7 846,594 846.5,594.3 847,594.5 847.5,594.8 848,595 848.5,595.1 849,595.3 849.5,595.4 850,595.6 850.5,595.7 851,595.8 851.5,596 852,596.1 852.5,596.2 853,596.3 853.5,596.4 854,596.5 854.5,596.6 855,596.7 855.5,596.8 856,596.8 856.5,596.9 857,597 857.5,597.1 858,597.2 858.5,597.2 859,597.3 859.5,597.4 860,597.5 860.5,597.5 861,597.6 861.5,597.7 862,597.8 862.5,597.8 863,597.9 863.5,598 864,598.1 864.5,598.1 865,598.2 865.5,598.3 866,598.4 866.5,598.5 867,598.5 867.5,598.6 868,598.7 868.5,598.7 869,598.8 869.5,598.8 870,598.9 870.5,599 871,599 871.5,599 872,599.1 872.5,599.1 873,599.1 873.5,599.2 874,599.2 874.5,599.2 875,599.2 875.5,599.2 876,599.3 876.5,599.3 877,599.3 877.5,599.3 878,599.3 878.5,599.3 879,599.3 879.5,599.3 880,599.4 880.5,599.4 881,599.4 881.5,599.4 882,599.4 882.5,599.4 883,599.4 883.5,599.4 884,599.4"/>
<path id="c-grow" d="M60,600 60.5,600 61,600 61.5,600 62,600 62.5,600 63,600 63.5,600 64,600 64.5,600 65,600 65.5,600 66,600 66.5,600 67,600 67.5,600 68,600 68.5,600 69,600 69.5,600 70,600 70.5,600 71,600 71.5,600 72,600 72.5,600 73,600 73.5,600 74,600 74.5,600 75,600 75.5,600 76,600 76.5,600 77,600 77.5,600 78,600 78.5,600 79,600 79.5,600 80,600 80.5,600 81,600 81.5,600 82,600 82.5,600 83,600 83.5,600 84,600 84.5,600 85,600 85.5,600 86,600 86.5,600 87,599.9 87.5,599.9 88,599.9 88.5,599.9 89,599.8 89.5,599.8 90,599.8 90.5,599.7 91,599.7 91.5,599.6 92,599.6 92.5,599.5 93,599.4 93.5,599.4 94,599.3 94.5,599.3 95,599.2 95.5,599.1 96,599 96.5,598.9 97,598.8 97.5,598.7 98,598.6 98.5,598.5 99,598.3 99.5,598.2 100,598 100.5,597.8 101,597.6 101.5,597.4 102,597.2 102.5,596.9 103,596.7 103.5,596.4 104,596.1 104.5,595.7 105,595.3 105.5,594.9 106,594.5 106.5,594 107,593.5 107.5,593 108,592.3 108.5,591.6 109,590.8 109.5,589.9 110,588.9 110.5,587.8 111,586.5 111.5,585 112,583.3 112.5,581.4 113,579.2 113.5,576.9 114,574.6 114.5,572.1 115,569.4 115.5,566.6 116,563.6 116.5,560.3 117,556.7 117.5,552.8 118,548.6 118.5,544.2 119,539.7 119.5,535 120,530.2 120.5,525.3 121,520.5 121.5,515.6 122,510.8 122.5,506.1 123,501.5 123.5,497.3 124,493.3 124.5,489.6 125,486.2 125.5,483.1 126,480.2 126.5,477.6 127,475.2 127.5,473.2 128,471.4 128.5,469.9 129,468.6 129.5,467.5 130,466.7 130.5,466.2 131,466 131.5,466.1 132,466.6 132.5,467.5 133,468.6 133.5,470.1 134,472.1 134.5,474.6 135,477.6 135.5,481.2 136,485 136.5,489.1 137,493.2 137.5,497.3 138,501.6 138.5,505.8 139,510 139.5,514.2 140,518.3 140.5,522.3 141,526.1 141.5,529.8 142,533.3 142.5,536.7 143,539.9 143.5,542.8 144,545.4 144.5,547.8 145,550 145.5,552 146,553.8 146.5,555.5 147,557.2 147.5,558.8 148,560.4 148.5,561.9 149,563.4 149.5,565 150,566.5 150.5,568 151,569.4 151.5,570.7 152,571.9 152.5,573.1 153,574.1 153.5,575.1 154,576.1 154.5,577 155,577.8 155.5,578.7 156,579.5 156.5,580.2 157,580.9 157.5,581.5 158,582.1 158.5,582.6 159,583 159.5,583.4 160,583.8 160.5,584.1 161,584.5 161.5,584.8 162,585.1 162.5,585.4 163,585.7 163.5,586 164,586.2 164.5,586.4 165,586.6 165.5,586.8 166,586.9 166.5,587.1 167,587.1 167.5,587.2 168,587.2 168.5,587.2 169,587.2 169.5,587.1 170,587 170.5,586.9 171,586.8 171.5,586.7 172,586.5 172.5,586.3 173,586.2 173.5,585.9 174,585.7 174.5,585.4 175,585.1 175.5,584.7 176,584.3 176.5,583.9 177,583.5 177.5,583 178,582.6 178.5,582.1 179,581.6 179.5,581.2 180,580.7 180.5,580.2 181,579.6 181.5,579.1 182,578.5 182.5,578 183,577.3 183.5,576.7 184,576.1 184.5,575.4 185,574.7 185.5,573.9 186,573.1 186.5,572.3 187,571.5 187.5,570.6 188,569.6 188.5,568.6 189,567.5 189.5,566.3 190,564.9 190.5,563.4 191,561.6 191.5,559.4 192,557 192.5,554.2 193,551.1 193.5,547.8 194,544.4 194.5,540.9 195,537.5 195.5,534.1 196,530.8 196.5,527.8 197,524.9 197.5,522.1 198,519.5 198.5,516.9 199,514.4 199.5,511.9 200,509.5 200.5,507.1 201,504.7 201.5,502.3 202,499.9 202.5,497.5 203,495.3 203.5,493.3 204,491.5 204.5,490 205,488.8 205.5,487.7 206,486.7 206.5,485.9 207,485.1 207.5,484.4 208,483.8 208.5,483.4 209,483.1 209.5,482.9 210,482.9 210.5,483.1 211,483.4 211.5,483.9 212,484.5 212.5,485.3 213,486.2 213.5,487.2 214,488.3 214.5,489.7 215,491.3 215.5,493.2 216,495.2 216.5,497.2 217,499.2 217.5,501.2 218,503.1 218.5,505.1 219,507 219.5,509 220,511 220.5,513 221,515.1 221.5,517.2 222,519.4 222.5,521.6 223,523.7 223.5,525.6 224,527.5 224.5,529.2 225,530.8 225.5,532.2 226,533.5 226.5,534.6 227,535.6 227.5,536.4 228,537.1 228.5,537.6 229,538 229.5,538.3 230,538.6 230.5,538.8 231,538.9 231.5,539 232,538.9 232.5,538.9 233,538.7 233.5,538.5 234,538.3 234.5,538 235,537.6 235.5,537.2 236,536.8 236.5,536.4 237,535.9 237.5,535.4 238,534.9 238.5,534.4 239,533.9 239.5,533.3 240,532.6 240.5,531.9 241,531.1 241.5,530.3 242,529.4 242.5,528.4 243,527.5 243.5,526.5 244,525.5 244.5,524.4 245,523.2 245.5,522 246,520.6 246.5,519.1 247,517.5 247.5,515.7 248,513.9 248.5,511.9 249,509.8 249.5,507.7 250,505.6 250.5,503.5 251,501.4 251.5,499.4 252,497.4 252.5,495.3 253,493.2 253.5,491.1 254,488.9 254.5,486.5 255,484.1 255.5,481.5 256,478.7 256.5,475.7 257,472.6 257.5,469.1 258,465.4 258.5,461.3 259,457 259.5,452.6 260,448.2 260.5,443.9 261,439.8 261.5,436.1 262,432.8 262.5,429.9 263,427.4 263.5,425.3 264,423.6 264.5,422.2 265,421 265.5,420 266,419.2 266.5,418.5 267,417.9 267.5,417.3 268,416.9 268.5,416.6 269,416.4 269.5,416.3 270,416.4 270.5,416.6 271,416.9 271.5,417.3 272,417.8 272.5,418.3 273,419 273.5,419.7 274,420.5 274.5,421.5 275,422.6 275.5,423.8 276,425.3 276.5,427 277,429 277.5,431.3 278,433.8 278.5,436.5 279,439.3 279.5,442.3 280,445.2 280.5,448.3 281,451.3 281.5,454.3 282,457.2 282.5,460.2 283,463.2 283.5,466.3 284,469.4 284.5,472.5 285,475.4 285.5,478 286,480.3 286.5,482.5 287,484.5 287.5,486.4 288,488.4 288.5,490.5 289,492.5 289.5,494.7 290,496.8 290.5,499 291,501.1 291.5,503.2 292,505.3 292.5,507.4 293,509.5 293.5,511.6 294,513.7 294.5,515.7 295,517.8 295.5,519.8 296,521.7 296.5,523.6 297,525.5 297.5,527.2 298,529 298.5,530.7 299,532.4 299.5,534.1 300,535.8 300.5,537.5 301,539.2 301.5,540.9 302,542.5 302.5,544.2 303,545.7 303.5,547.2 304,548.6 304.5,550.1 305,551.4 305.5,552.8 306,554.1 306.5,555.4 307,556.6 307.5,557.8 308,559 308.5,560.2 309,561.3 309.5,562.3 310,563.4 310.5,564.4 311,565.3 311.5,566.3 312,567.2 312.5,568.1 313,569 313.5,569.8 314,570.6 314.5,571.4 315,572.1 315.5,572.9 316,573.6 316.5,574.3 317,575 317.5,575.7 318,576.4 318.5,577 319,577.7 319.5,578.3 320,578.9 320.5,579.5 321,580.1 321.5,580.6 322,581.2 322.5,581.7 323,582.2 323.5,582.6 324,583.1 324.5,583.5 325,583.9 325.5,584.2 326,584.6 326.5,585 327,585.3 327.5,585.7 328,586 328.5,586.3 329,586.6 329.5,586.9 330,587.2 330.5,587.5 331,587.8 331.5,588.1 332,588.3 332.5,588.6 333,588.8 333.5,589.1 334,589.3 334.5,589.5 335,589.7 335.5,589.9 336,590.2 336.5,590.4 337,590.6 337.5,590.8 338,591 338.5,591.2 339,591.4 339.5,591.5 340,591.7 340.5,591.9 341,592.1 341.5,592.2 342,592.4 342.5,592.5 343,592.7 343.5,592.8 344,592.9 344.5,593 345,593.1 345.5,593.2 346,593.3 346.5,593.4 347,593.4 347.5,593.5 348,593.6 348.5,593.6 349,593.7 349.5,593.7 350,593.8 350.5,593.9 351,593.9 351.5,594 352,594 352.5,594.1 353,594.1 353.5,594.2 354,594.2 354.5,594.3 355,594.3 355.5,594.4 356,594.4 356.5,594.5 357,594.5 357.5,594.5 358,594.6 358.5,594.6 359,594.6 359.5,594.7 360,594.7 360.5,594.7 361,594.8 361.5,594.8 362,594.8 362.5,594.8 363,594.9 363.5,594.9 364,594.9 364.5,594.9 365,594.9 365.5,594.9 366,595 366.5,595 367,595 367.5,595 368,595 368.5,595 369,595 369.5,595 370,595 370.5,595 371,594.9 371.5,594.9 372,594.9 372.5,594.9 373,594.9 373.5,594.9 374,594.9 374.5,594.8 375,594.8 375.5,594.8 376,594.8 376.5,594.8 377,594.8 377.5,594.7 378,594.7 378.5,594.7 379,594.7 379.5,594.6 380,594.6 380.5,594.6 381,594.6 381.5,594.5 382,594.5 382.5,594.5 383,594.5 383.5,594.4 384,594.4 384.5,594.4 385,594.4 385.5,594.3 386,594.3 386.5,594.3 387,594.3 387.5,594.2 388,594.2 388.5,594.2 389,594.1 389.5,594.1 390,594.1 390.5,594 391,594 391.5,594 392,593.9 392.5,593.9 393,593.9 393.5,593.8 394,593.8 394.5,593.7 395,593.7 395.5,593.7 396,593.6 396.5,593.6 397,593.5 397.5,593.5 398,593.5 398.5,593.4 399,593.4 399.5,593.3 400,593.3 400.5,593.3 401,593.2 401.5,593.2 402,593.1 402.5,593.1 403,593 403.5,593 404,593 404.5,592.9 405,592.9 405.5,592.9 406,592.8 406.5,592.8 407,592.8 407.5,592.7 408,592.7 408.5,592.7 409,592.6 409.5,592.6 410,592.6 410.5,592.5 411,592.5 411.5,592.5 412,592.5 412.5,592.4 413,592.4 413.5,592.4 414,592.3 414.5,592.3 415,592.3 415.5,592.3 416,592.2 416.5,592.2 417,592.2 417.5,592.2 418,592.1 418.5,592.1 419,592.1 419.5,592.1 420,592 420.5,592 421,592 421.5,592 422,591.9 422.5,591.9 423,591.9 423.5,591.9 424,591.8 424.5,591.8 425,591.8 425.5,591.8 426,591.8 426.5,591.7 427,591.7 427.5,591.7 428,591.7 428.5,591.7 429,591.7 429.5,591.6 430,591.6 430.5,591.6 431,591.6 431.5,591.6 432,591.6 432.5,591.6 433,591.5 433.5,591.5 434,591.5 434.5,591.5 435,591.5 435.5,591.5 436,591.4 436.5,591.4 437,591.4 437.5,591.4 438,591.4 438.5,591.4 439,591.4 439.5,591.3 440,591.3 440.5,591.3 441,591.3 441.5,591.3 442,591.3 442.5,591.3 443,591.3 443.5,591.3 444,591.2 444.5,591.2 445,591.2 445.5,591.2 446,591.2 446.5,591.2 447,591.2 447.5,591.2 448,591.2 448.5,591.2 449,591.2 449.5,591.2 450,591.2 450.5,591.2 451,591.2 451.5,591.2 452,591.2 452.5,591.2 453,591.2 453.5,591.2 454,591.2 454.5,591.2 455,591.2 455.5,591.2 456,591.2 456.5,591.2 457,591.2 457.5,591.2 458,591.2 458.5,591.2 459,591.2 459.5,591.2 460,591.2 460.5,591.2 461,591.2 461.5,591.2 462,591.2 462.5,591.3 463,591.3 463.5,591.3 464,591.3 464.5,591.3 465,591.3 465.5,591.3 466,591.3 466.5,591.3 467,591.3 467.5,591.4 468,591.4 468.5,591.4 469,591.4 469.5,591.4 470,591.4 470.5,591.4 471,591.4 471.5,591.4 472,591.4 472.5,591.5 473,591.5 473.5,591.5 474,591.5 474.5,591.5 475,591.5 475.5,591.5 476,591.5 476.5,591.6 477,591.6 477.5,591.6 478,591.6 478.5,591.6 479,591.6 479.5,591.6 480,591.6 480.5,591.6 481,591.6 481.5,591.7 482,591.7 482.5,591.7 483,591.7 483.5,591.7 484,591.7 484.5,591.7 485,591.7 485.5,591.8 486,591.8 486.5,591.8 487,591.8 487.5,591.8 488,591.8 488.5,591.8 489,591.8 489.5,591.9 490,591.9 490.5,591.9 491,591.9 491.5,591.9 492,591.9 492.5,591.9 493,592 493.5,592 494,592 494.5,592 495,592 495.5,592 496,592 496.5,592.1 497,592.1 497.5,592.1 498,592.1 498.5,592.1 499,592.1 499.5,592.1 500,592.2 500.5,592.2 501,592.2 501.5,592.2 502,592.2 502.5,592.2 503,592.3 503.5,592.3 504,592.3 504.5,592.3 505,592.3 505.5,592.3 506,592.4 506.5,592.4 507,592.4 507.5,592.4 508,592.4 508.5,592.5 509,592.5 509.5,592.5 510,592.5 510.5,592.5 511,592.5 511.5,592.6 512,592.6 512.5,592.6 513,592.6 513.5,592.6 514,592.6 514.5,592.6 515,592.6 515.5,592.7 516,592.7 516.5,592.7 517,592.7 517.5,592.7 518,592.7 518.5,592.7 519,592.7 519.5,592.7 520,592.7 520.5,592.7 521,592.7 521.5,592.7 522,592.7 522.5,592.7 523,592.6 523.5,592.6 524,592.6 524.5,592.6 525,592.6 525.5,592.6 526,592.6 526.5,592.6 527,592.6 527.5,592.5 528,592.5 528.5,592.5 529,592.5 529.5,592.5 530,592.5 530.5,592.5 531,592.5 531.5,592.4 532,592.4 532.5,592.4 533,592.4 533.5,592.4 534,592.3 534.5,592.3 535,592.3 535.5,592.3 536,592.3 536.5,592.2 537,592.2 537.5,592.2 538,592.2 538.5,592.1 539,592.1 539.5,592.1 540,592 540.5,592 541,592 541.5,591.9 542,591.9 542.5,591.9 543,591.8 543.5,591.8 544,591.8 544.5,591.7 545,591.7 545.5,591.6 546,591.6 546.5,591.5 547,591.5 547.5,591.4 548,591.3 548.5,591.3 549,591.2 549.5,591.1 550,591.1 550.5,591 551,590.9 551.5,590.9 552,590.8 552.5,590.7 553,590.6 553.5,590.5 554,590.5 554.5,590.4 555,590.3 555.5,590.2 556,590.1 556.5,590 557,589.9 557.5,589.9 558,589.8 558.5,589.7 559,589.6 559.5,589.5 560,589.3 560.5,589.2 561,589.1 561.5,589.1 562,589 562.5,588.9 563,588.8 563.5,588.7 564,588.6 564.5,588.6 565,588.5 565.5,588.4 566,588.4 566.5,588.3 567,588.3 567.5,588.2 568,588.2 568.5,588.1 569,588.1 569.5,588 570,588 570.5,587.9 571,587.9 571.5,587.8 572,587.8 572.5,587.7 573,587.7 573.5,587.6 574,587.5 574.5,587.4 575,587.3 575.5,587.3 576,587.2 576.5,587.1 577,586.9 577.5,586.8 578,586.7 578.5,586.6 579,586.4 579.5,586.3 580,586.1 580.5,586 581,585.8 581.5,585.6 582,585.4 582.5,585.1 583,584.9 583.5,584.6 584,584.4 584.5,584.1 585,583.8 585.5,583.4 586,583.1 586.5,582.7 587,582.3 587.5,581.9 588,581.4 588.5,580.9 589,580.4 589.5,579.9 590,579.4 590.5,578.9 591,578.4 591.5,577.8 592,577.3 592.5,576.7 593,576.2 593.5,575.6 594,575 594.5,574.4 595,573.8 595.5,573.1 596,572.5 596.5,571.8 597,571.1 597.5,570.5 598,569.7 598.5,569 599,568.3 599.5,567.5 600,566.8 600.5,566 601,565.2 601.5,564.5 602,563.7 602.5,562.8 603,562 603.5,561.2 604,560.3 604.5,559.4 605,558.4 605.5,557.5 606,556.4 606.5,555.4 607,554.3 607.5,553.2 608,552.1 608.5,550.9 609,549.8 609.5,548.6 610,547.5 610.5,546.3 611,545.1 611.5,543.9 612,542.8 612.5,541.7 613,540.6 613.5,539.6 614,538.6 614.5,537.8 615,537 615.5,536.4 616,535.8 616.5,535.4 617,535 617.5,534.7 618,534.5 618.5,534.4 619,534.3 619.5,534.4 620,534.5 620.5,534.7 621,534.8 621.5,535 622,535.2 622.5,535.4 623,535.7 623.5,535.9 624,536.2 624.5,536.4 625,536.7 625.5,537 626,537.4 626.5,537.7 627,538 627.5,538.3 628,538.6 628.5,538.8 629,539.1 629.5,539.3 630,539.4 630.5,539.5 631,539.6 631.5,539.6 632,539.6 632.5,539.5 633,539.4 633.5,539.2 634,539 634.5,538.8 635,538.5 635.5,538.1 636,537.7 636.5,537.1 637,536.5 637.5,535.8 638,535 638.5,534.2 639,533.3 639.5,532.4 640,531.5 640.5,530.5 641,529.6 641.5,528.6 642,527.5 642.5,526.5 643,525.3 643.5,524.2 644,523 644.5,521.7 645,520.4 645.5,519 646,517.5 646.5,515.9 647,514.3 647.5,512.6 648,510.7 648.5,508.8 649,506.8 649.5,504.7 650,502.5 650.5,500.1 651,497.7 651.5,495.2 652,492.5 652.5,489.8 653,487 653.5,484 654,481 654.5,477.8 655,474.6 655.5,471.3 656,468 656.5,464.7 657,461.3 657.5,458 658,454.7 658.5,451.4 659,448 659.5,444.6 660,441.3 660.5,437.9 661,434.5 661.5,431.1 662,427.7 662.5,424.3 663,420.9 663.5,417.4 664,414.1 664.5,410.7 665,407.3 665.5,404 666,400.8 666.5,397.5 667,394.4 667.5,391.2 668,387.9 668.5,384.6 669,381 669.5,377.1 670,373.1 670.5,368.8 671,364.4 671.5,360 672,355.6 672.5,351.4 673,347.3 673.5,343.5 674,340.1 674.5,337 675,334.4 675.5,332 676,329.9 676.5,328.1 677,326.6 677.5,325.4 678,325.1 678.5,324.9 679,324.7 679.5,324.6 680,324.5 680.5,324.5 681,324.6 681.5,324.7 682,325.5 682.5,326.7 683,328.2 683.5,330 684,332.2 684.5,334.8 685,338.1 685.5,342.3 686,347.4 686.5,353.1 687,359.2 687.5,365.2 688,371 688.5,376.6 689,382 689.5,387.4 690,392.6 690.5,397.8 691,402.9 691.5,408 692,413.1 692.5,418.2 693,423.2 693.5,428.4 694,433.5 694.5,438.6 695,443.7 695.5,448.8 696,453.9 696.5,458.9 697,463.8 697.5,468.7 698,473.5 698.5,478.2 699,482.7 699.5,487.1 700,491.3 700.5,495.4 701,499.3 701.5,503.3 702,507.3 702.5,511.4 703,515.6 703.5,519.8 704,524 704.5,528.2 705,532.3 705.5,536.2 706,539.9 706.5,543.3 707,546.5 707.5,549.5 708,552.2 708.5,554.7 709,557.1 709.5,559.4 710,561.5 710.5,563.5 711,565.3 711.5,567 712,568.6 712.5,570.1 713,571.4 713.5,572.6 714,573.8 714.5,574.8 715,575.8 715.5,576.8 716,577.7 716.5,578.5 717,579.3 717.5,580.1 718,580.8 718.5,581.4 719,582.1 719.5,582.7 720,583.2 720.5,583.8 721,584.4 721.5,584.9 722,585.4 722.5,585.8 723,586.2 723.5,586.7 724,587.1 724.5,587.5 725,587.8 725.5,588.2 726,588.5 726.5,588.8 727,589.1 727.5,589.4 728,589.7 728.5,589.9 729,590.1 729.5,590.3 730,590.5 730.5,590.7 731,590.9 731.5,591.1 732,591.2 732.5,591.4 733,591.5 733.5,591.7 734,591.8 734.5,592 735,592.1 735.5,592.2 736,592.3 736.5,592.4 737,592.5 737.5,592.7 738,592.8 738.5,592.8 739,592.9 739.5,593 740,593.1 740.5,593.2 741,593.3 741.5,593.4 742,593.4 742.5,593.5 743,593.6 743.5,593.7 744,593.8 744.5,593.8 745,593.9 745.5,594 746,594 746.5,594.1 747,594.2 747.5,594.2 748,594.3 748.5,594.3 749,594.4 749.5,594.4 750,594.5 750.5,594.5 751,594.6 751.5,594.6 752,594.6 752.5,594.7 753,594.7 753.5,594.7 754,594.8 754.5,594.8 755,594.8 755.5,594.8 756,594.8 756.5,594.8 757,594.8 757.5,594.9 758,594.9 758.5,594.9 759,594.9 759.5,594.9 760,594.9 760.5,594.9 761,594.9 761.5,594.9 762,594.9 762.5,595 763,595 763.5,595 764,595 764.5,595 765,595 765.5,595 766,595 766.5,595 767,595 767.5,595 768,595 768.5,595 769,595 769.5,595 770,595 770.5,595 771,594.9 771.5,594.9 772,594.9 772.5,594.9 773,594.8 773.5,594.8 774,594.8 774.5,594.7 775,594.7 775.5,594.6 776,594.6 776.5,594.5 777,594.5 777.5,594.4 778,594.4 778.5,594.3 779,594.3 779.5,594.2 780,594.2 780.5,594.1 781,594.1 781.5,594 782,593.9 782.5,593.9 783,593.8 783.5,593.7 784,593.6 784.5,593.5 785,593.4 785.5,593.3 786,593.2 786.5,593.1 787,592.9 787.5,592.8 788,592.7 788.5,592.5 789,592.3 789.5,592.2 790,592 790.5,591.8 791,591.6 791.5,591.5 792,591.3 792.5,591.1 793,590.9 793.5,590.7 794,590.5 794.5,590.4 795,590.2 795.5,590 796,589.8 796.5,589.6 797,589.4 797.5,589.2 798,589 798.5,588.8 799,588.6 799.5,588.4 800,588.2 800.5,588 801,587.8 801.5,587.6 802,587.3 802.5,587.1 803,586.9 803.5,586.7 804,586.5 804.5,586.2 805,586 805.5,585.8 806,585.5 806.5,585.3 807,585.1 807.5,584.9 808,584.6 808.5,584.4 809,584.2 809.5,584 810,583.7 810.5,583.5 811,583.3 811.5,583.1 812,582.8 812.5,582.6 813,582.4 813.5,582.1 814,581.9 814.5,581.6 815,581.4 815.5,581.2 816,580.9 816.5,580.7 817,580.5 817.5,580.2 818,580 818.5,579.8 819,579.6 819.5,579.4 820,579.2 820.5,579 821,578.8 821.5,578.6 822,578.4 822.5,578.2 823,578 823.5,577.8 824,577.6 824.5,577.4 825,577.2 825.5,577 826,576.9 826.5,576.7 827,576.6 827.5,576.5 828,576.5 828.5,576.6 829,576.7 829.5,576.9 830,577.3 830.5,577.7 831,578.2 831.5,578.8 832,579.5 832.5,580.2 833,580.9 833.5,581.6 834,582.3 834.5,582.9 835,583.6 835.5,584.2 836,584.7 836.5,585.3 837,585.9 837.5,586.5 838,587.1 838.5,587.6 839,588.2 839.5,588.7 840,589.3 840.5,589.8 841,590.2 841.5,590.7 842,591.1 842.5,591.5 843,591.9 843.5,592.3 844,592.7 844.5,593 845,593.4 845.5,593.7 846,594 846.5,594.3 847,594.5 847.5,594.8 848,595 848.5,595.1 849,595.3 849.5,595.4 850,595.6 850.5,595.7 851,595.8 851.5,596 852,596.1 852.5,596.2 853,596.3 853.5,596.4 854,596.5 854.5,596.6 855,596.7 855.5,596.8 856,596.8 856.5,596.9 857,597 857.5,597.1 858,597.2 858.5,597.2 859,597.3 859.5,597.4 860,597.5 860.5,597.5 861,597.6 861.5,597.7 862,597.8 862.5,597.8 863,597.9 863.5,598 864,598.1 864.5,598.1 865,598.2 865.5,598.3 866,598.4 866.5,598.5 867,598.5 867.5,598.6 868,598.7 868.5,598.7 869,598.8 869.5,598.8 870,598.9 870.5,599 871,599 871.5,599 872,599.1 872.5,599.1 873,599.1 873.5,599.2 874,599.2 874.5,599.2 875,599.2 875.5,599.2 876,599.3 876.5,599.3 877,599.3 877.5,599.3 878,599.3 878.5,599.3 879,599.3 879.5,599.3 880,599.4 880.5,599.4 881,599.4 881.5,599.4 882,599.4 882.5,599.4 883,599.4 883.5,599.4 884,599.4"/>
<path id="c-red" d="M96,600 96.5,600 97,600 97.5,600 98,600 98.5,600 99,600 99.5,600 100,600 100.5,600 101,600 101.5,600 102,600 102.5,600 103,600 103.5,600 104,600 104.5,600 105,600 105.5,600 106,600 106.5,600 107,600 107.5,600 108,600 108.5,600 109,600 109.5,600 110,600 110.5,600 111,600 111.5,600 112,600 112.5,600 113,600 113.5,600 114,600 114.5,600 115,600 115.5,600 116,600 116.5,600 117,600 117.5,600 118,600 118.5,600 119,600 119.5,600 120,600 120.5,600 121,600 121.5,600 122,600 122.5,600 123,600 123.5,600 124,600 124.5,600 125,600 125.5,600 126,600 126.5,600 127,600 127.5,600 128,600 128.5,600 129,600 129.5,600 130,600 130.5,600 131,600 131.5,600 132,600 132.5,600 133,600 133.5,600 134,600 134.5,600 135,600 135.5,600 136,600 136.5,600 137,600 137.5,600 138,600 138.5,600 139,600 139.5,600 140,600 140.5,600 141,600 141.5,600 142,600 142.5,600 143,600 143.5,600 144,600 144.5,600 145,600 145.5,600 146,600 146.5,600 147,600 147.5,600 148,600 148.5,600 149,600 149.5,600 150,600 150.5,600 151,600 151.5,600 152,600 152.5,600 153,600 153.5,600 154,600 154.5,600 155,600 155.5,600 156,600 156.5,600 157,600 157.5,600 158,600 158.5,600 159,600 159.5,600 160,600 160.5,600 161,600 161.5,600 162,600 162.5,600 163,600 163.5,600 164,600 164.5,600 165,600 165.5,600 166,600 166.5,600 167,600 167.5,600 168,600 168.5,600 169,600 169.5,600 170,600 170.5,600 171,600 171.5,600 172,600 172.5,600 173,600 173.5,600 174,600 174.5,600 175,600 175.5,600 176,600 176.5,600 177,600 177.5,600 178,600 178.5,600 179,600 179.5,600 180,600 180.5,600 181,600 181.5,600 182,600 182.5,600 183,600 183.5,600 184,600 184.5,600 185,600 185.5,600 186,600 186.5,600 187,600 187.5,600 188,600 188.5,600 189,600 189.5,600 190,600 190.5,600 191,600 191.5,600 192,600 192.5,600 193,600 193.5,600 194,600 194.5,600 195,600 195.5,600 196,600 196.5,600 197,600 197.5,600 198,600 198.5,600 199,600 199.5,600 200,600 200.5,600 201,600 201.5,600 202,600 202.5,600 203,600 203.5,600 204,600 204.5,600 205,600 205.5,600 206,600 206.5,600 207,600 207.5,600 208,600 208.5,600 209,600 209.5,600 210,600 210.5,600 211,600 211.5,600 212,600 212.5,600 213,600 213.5,600 214,600 214.5,600 215,600 215.5,600 216,600 216.5,600 217,600 217.5,600 218,600 218.5,600 219,600 219.5,600 220,600 220.5,600 221,600 221.5,600 222,600 222.5,600 223,600 223.5,600 224,600 224.5,600 225,600 225.5,600 226,600 226.5,600 227,600 227.5,600 228,600 228.5,600 229,600 229.5,600 230,600 230.5,600 231,600 231.5,600 232,600 232.5,600 233,600 233.5,600 234,600 234.5,600 235,600 235.5,600 236,600 236.5,600 237,600 237.5,600 238,600 238.5,600 239,600 239.5,600 240,600 240.5,600 241,600 241.5,600 242,600 242.5,600 243,600 243.5,600 244,600 244.5,600 245,600 245.5,600 246,600 246.5,600 247,600 247.5,600 248,600 248.5,600 249,600 249.5,600 250,600 250.5,600 251,600 251.5,600 252,600 252.5,600 253,600 253.5,600 254,600 254.5,600 255,600 255.5,600 256,600 256.5,600 257,600 257.5,600 258,600 258.5,600 259,600 259.5,600 260,600 260.5,600 261,600 261.5,600 262,600 262.5,600 263,600 263.5,600 264,600 264.5,600 265,600 265.5,600 266,600 266.5,600 267,600 267.5,600 268,600 268.5,600 269,600 269.5,600 270,600 270.5,600 271,600 271.5,600 272,600 272.5,600 273,600 273.5,600 274,600 274.5,600 275,600 275.5,600 276,600 276.5,600 277,600 277.5,600 278,600 278.5,600 279,600 279.5,600 280,600 280.5,600 281,600 281.5,600 282,600 282.5,600 283,600 283.5,600 284,600 284.5,600 285,600 285.5,600 286,600 286.5,600 287,600 287.5,600 288,600 288.5,600 289,600 289.5,600 290,600 290.5,600 291,600 291.5,600 292,600 292.5,600 293,600 293.5,600 294,600 294.5,600 295,600 295.5,600 296,600 296.5,600 297,600 297.5,600 298,600 298.5,600 299,600 299.5,600 300,600 300.5,600 301,600 301.5,600 302,600 302.5,600 303,600 303.5,600 304,600 304.5,600 305,600 305.5,600 306,600 306.5,600 307,600 307.5,600 308,600 308.5,600 309,600 309.5,600 310,600 310.5,600 311,600 311.5,600 312,600 312.5,600 313,600 313.5,600 314,600 314.5,600 315,600 315.5,600 316,600 316.5,600 317,600 317.5,600 318,600 318.5,600 319,600 319.5,600 320,600 320.5,600 321,600 321.5,600 322,600 322.5,600 323,600 323.5,600 324,600 324.5,600 325,600 325.5,600 326,600 326.5,600 327,600 327.5,600 328,600 328.5,600 329,600 329.5,600 330,600 330.5,600 331,600 331.5,600 332,600 332.5,600 333,600 333.5,600 334,600 334.5,600 335,600 335.5,600 336,600 336.5,600 337,600 337.5,600 338,600 338.5,600 339,600 339.5,600 340,600 340.5,600 341,600 341.5,600 342,600 342.5,600 343,600 343.5,600 344,600 344.5,600 345,600 345.5,600 346,600 346.5,600 347,600 347.5,600 348,600 348.5,600 349,600 349.5,600 350,600 350.5,600 351,600 351.5,600 352,600 352.5,600 353,600 353.5,600 354,600 354.5,600 355,600 355.5,600 356,600 356.5,600 357,600 357.5,600 358,600 358.5,600 359,600 359.5,600 360,600 360.5,600 361,600 361.5,600 362,600 362.5,600 363,600 363.5,600 364,600 364.5,600 365,600 365.5,600 366,600 366.5,600 367,600 367.5,600 368,600 368.5,600 369,600 369.5,600 370,600 370.5,600 371,600 371.5,600 372,600 372.5,600 373,600 373.5,600 374,600 374.5,600 375,600 375.5,600 376,600 376.5,600 377,600 377.5,600 378,600 378.5,600 379,600 379.5,600 380,600 380.5,600 381,600 381.5,600 382,600 382.5,600 383,600 383.5,600 384,600 384.5,600 385,600 385.5,600 386,600 386.5,600 387,600 387.5,600 388,600 388.5,600 389,600 389.5,600 390,600 390.5,600 391,600 391.5,600 392,600 392.5,600 393,600 393.5,600 394,600 394.5,600 395,600 395.5,600 396,600 396.5,600 397,600 397.5,600 398,600 398.5,600 399,600 399.5,600 400,600 400.5,600 401,600 401.5,600 402,600 402.5,600 403,600 403.5,600 404,600 404.5,600 405,600 405.5,600 406,600 406.5,600 407,600 407.5,600 408,600 408.5,600 409,600 409.5,600 410,600 410.5,600 411,600 411.5,600 412,600 412.5,600 413,600 413.5,600 414,600 414.5,600 415,600 415.5,600 416,600 416.5,600 417,600 417.5,600 418,600 418.5,600 419,600 419.5,600 420,600 420.5,600 421,600 421.5,600 422,600 422.5,600 423,600 423.5,600 424,600 424.5,600 425,600 425.5,600 426,600 426.5,600 427,600 427.5,600 428,600 428.5,600 429,600 429.5,600 430,600 430.5,600 431,600 431.5,600 432,600 432.5,600 433,600 433.5,600 434,600 434.5,600 435,600 435.5,600 436,600 436.5,600 437,600 437.5,600 438,600 438.5,600 439,600 439.5,600 440,600 440.5,600 441,600 441.5,600 442,600 442.5,600 443,600 443.5,600 444,600 444.5,600 445,600 445.5,600 446,600 446.5,600 447,600 447.5,600 448,600 448.5,600 449,600 449.5,600 450,600 450.5,600 451,600 451.5,600 452,600 452.5,600 453,600 453.5,600 454,600 454.5,600 455,600 455.5,600 456,600 456.5,600 457,600 457.5,600 458,600 458.5,600 459,600 459.5,600 460,600 460.5,600 461,600 461.5,600 462,600 462.5,600 463,600 463.5,600 464,600 464.5,600 465,600 465.5,600 466,600 466.5,600 467,600 467.5,600 468,600 468.5,600 469,600 469.5,600 470,600 470.5,600 471,600 471.5,600 472,600 472.5,600 473,600 473.5,600 474,600 474.5,600 475,600 475.5,600 476,600 476.5,600 477,600 477.5,600 478,600 478.5,600 479,600 479.5,600 480,600 480.5,600 481,600 481.5,600 482,600 482.5,600 483,600 483.5,600 484,600 484.5,600 485,600 485.5,600 486,600 486.5,600 487,600 487.5,600 488,600 488.5,600 489,600 489.5,600 490,600 490.5,600 491,600 491.5,600 492,600 492.5,600 493,600 493.5,600 494,600 494.5,600 495,600 495.5,600 496,600 496.5,600 497,600 497.5,600 498,600 498.5,600 499,600 499.5,600 500,600 500.5,600 501,600 501.5,600 502,600 502.5,600 503,600 503.5,600 504,600 504.5,600 505,600 505.5,600 506,600 506.5,600 507,600 507.5,600 508,600.1 508.5,600.1 509,600.1 509.5,600.1 510,600.1 510.5,600.1 511,600.1 511.5,600.1 512,600.1 512.5,600.1 513,600.1 513.5,600.1 514,600.1 514.5,600.1 515,600.1 515.5,600.1 516,600.1 516.5,600.1 517,600.1 517.5,600.1 518,600.1 518.5,600.1 519,600.1 519.5,600.1 520,600.1 520.5,600 521,600 521.5,600 522,600 522.5,600 523,600 523.5,600 524,599.9 524.5,599.9 525,599.9 525.5,599.9 526,599.9 526.5,599.8 527,599.8 527.5,599.8 528,599.8 528.5,599.8 529,599.7 529.5,599.7 530,599.7 530.5,599.7 531,599.7 531.5,599.6 532,599.6 532.5,599.6 533,599.6 533.5,599.5 534,599.5 534.5,599.5 535,599.5 535.5,599.4 536,599.4 536.5,599.4 537,599.3 537.5,599.3 538,599.3 538.5,599.2 539,599.2 539.5,599.2 540,599.1 540.5,599.1 541,599.1 541.5,599 542,599 542.5,598.9 543,598.9 543.5,598.8 544,598.8 544.5,598.7 545,598.7 545.5,598.6 546,598.6 546.5,598.5 547,598.5 547.5,598.4 548,598.3 548.5,598.3 549,598.2 549.5,598.1 550,598 550.5,598 551,597.9 551.5,597.8 552,597.7 552.5,597.6 553,597.5 553.5,597.5 554,597.4 554.5,597.3 555,597.2 555.5,597.1 556,597 556.5,596.9 557,596.8 557.5,596.7 558,596.6 558.5,596.5 559,596.4 559.5,596.3 560,596.2 560.5,596.1 561,596 561.5,595.8 562,595.7 562.5,595.6 563,595.5 563.5,595.4 564,595.2 564.5,595.1 565,595 565.5,594.9 566,594.7 566.5,594.6 567,594.5 567.5,594.4 568,594.2 568.5,594.1 569,593.9 569.5,593.8 570,593.6 570.5,593.5 571,593.3 571.5,593.2 572,593 572.5,592.8 573,592.6 573.5,592.4 574,592.2 574.5,592 575,591.8 575.5,591.6 576,591.4 576.5,591.1 577,590.9 577.5,590.6 578,590.4 578.5,590.1 579,589.9 579.5,589.6 580,589.3 580.5,589 581,588.7 581.5,588.3 582,588 582.5,587.6 583,587.3 583.5,586.9 584,586.5 584.5,586.1 585,585.7 585.5,585.2 586,584.8 586.5,584.3 587,583.8 587.5,583.2 588,582.7 588.5,582.1 589,581.5 589.5,580.9 590,580.3 590.5,579.7 591,579.1 591.5,578.5 592,577.9 592.5,577.2 593,576.6 593.5,576 594,575.3 594.5,574.7 595,574 595.5,573.3 596,572.6 596.5,571.9 597,571.2 597.5,570.5 598,569.8 598.5,569 599,568.3 599.5,567.6 600,566.8 600.5,566 601,565.2 601.5,564.5 602,563.7 602.5,562.8 603,562 603.5,561.2 604,560.3 604.5,559.4 605,558.4 605.5,557.5 606,556.4 606.5,555.4 607,554.3 607.5,553.2 608,552.1 608.5,550.9 609,549.8 609.5,548.6 610,547.5 610.5,546.3 611,545.1 611.5,543.9 612,542.8 612.5,541.7 613,540.6 613.5,539.6 614,538.6 614.5,537.8 615,537 615.5,536.4 616,535.8 616.5,535.4 617,535 617.5,534.7 618,534.5 618.5,534.4 619,534.3 619.5,534.4 620,534.5 620.5,534.7 621,534.8 621.5,535 622,535.2 622.5,535.4 623,535.7 623.5,535.9 624,536.2 624.5,536.4 625,536.7 625.5,537 626,537.4 626.5,537.7 627,538 627.5,538.3 628,538.6 628.5,538.8 629,539.1 629.5,539.3 630,539.4 630.5,539.5 631,539.6 631.5,539.6 632,539.6 632.5,539.5 633,539.4 633.5,539.2 634,539 634.5,538.8 635,538.5 635.5,538.1 636,537.7 636.5,537.1 637,536.5 637.5,535.8 638,535 638.5,534.2 639,533.3 639.5,532.4 640,531.5 640.5,530.5 641,529.6 641.5,528.6 642,527.5 642.5,526.5 643,525.3 643.5,524.2 644,523 644.5,521.7 645,520.4 645.5,519 646,517.5 646.5,515.9 647,514.3 647.5,512.6 648,510.7 648.5,508.8 649,506.8 649.5,504.7 650,502.5 650.5,500.1 651,497.7 651.5,495.2 652,492.5 652.5,489.8 653,487 653.5,484 654,481 654.5,477.8 655,474.6 655.5,471.3 656,468 656.5,464.7 657,461.3 657.5,458 658,454.7 658.5,451.4 659,448 659.5,444.6 660,441.3 660.5,437.9 661,434.5 661.5,431.1 662,427.7 662.5,424.3 663,420.9 663.5,417.4 664,414.1 664.5,410.7 665,407.3 665.5,404 666,400.8 666.5,397.5 667,394.4 667.5,391.2 668,387.9 668.5,384.6 669,381 669.5,377.1 670,373.1 670.5,368.8 671,364.4 671.5,360 672,355.6 672.5,351.4 673,347.3 673.5,343.5 674,340.1 674.5,337 675,334.4 675.5,332 676,329.9 676.5,328.1 677,326.6 677.5,325.4 678,324.7 678.5,324.5 679,324.8 679.5,325.7 680,326.9 680.5,328.5 681,330.4 681.5,332.6 682,335.3 682.5,338.8 683,343.2 683.5,348.4 684,354.3 684.5,360.4 685,366.4 685.5,372.2 686,377.7 686.5,383.1 687,388.4 687.5,393.7 688,398.8 688.5,403.9 689,409 689.5,414.1 690,419.2 690.5,424.3 691,429.4 691.5,434.5 692,439.6 692.5,444.8 693,449.9 693.5,454.9 694,459.9 694.5,464.8 695,469.7 695.5,474.4 696,479.1 696.5,483.6 697,488 697.5,492.1 698,496.2 698.5,500.1 699,504.1 699.5,508.1 700,512.2 700.5,516.4 701,520.7 701.5,524.9 702,529 702.5,533.1 703,537 703.5,540.6 704,544 704.5,547.1 705,550 705.5,552.7 706,555.2 706.5,557.6 707,559.8 707.5,561.9 708,563.9 708.5,565.7 709,567.4 709.5,568.9 710,570.3 710.5,571.6 711,572.8 711.5,574 712,575 712.5,576 713,577 713.5,577.9 714,578.7 714.5,579.5 715,580.2 715.5,580.9 716,581.6 716.5,582.2 717,582.8 717.5,583.3 718,583.8 718.5,584.3 719,584.8 719.5,585.2 720,585.6 720.5,586 721,586.4 721.5,586.8 722,587.1 722.5,587.5 723,587.8 723.5,588.1 724,588.4 724.5,588.7 725,589 725.5,589.2 726,589.5 726.5,589.7 727,589.9 727.5,590.1 728,590.3 728.5,590.5 729,590.6 729.5,590.8 730,590.9 730.5,591.1 731,591.2 731.5,591.4 732,591.5 732.5,591.6 733,591.8 733.5,591.9 734,592 734.5,592.1 735,592.2 735.5,592.3 736,592.4 736.5,592.5 737,592.6 737.5,592.7 738,592.8 738.5,592.9 739,593 739.5,593 740,593.1 740.5,593.2 741,593.3 741.5,593.4 742,593.4 742.5,593.5 743,593.6 743.5,593.7 744,593.8 744.5,593.8 745,593.9 745.5,594 746,594 746.5,594.1 747,594.2 747.5,594.2 748,594.3 748.5,594.3 749,594.4 749.5,594.4 750,594.5 750.5,594.5 751,594.6 751.5,594.6 752,594.6 752.5,594.7 753,594.7 753.5,594.7 754,594.8 754.5,594.8 755,594.8 755.5,594.8 756,594.8 756.5,594.8 757,594.8 757.5,594.9 758,594.9 758.5,594.9 759,594.9 759.5,594.9 760,594.9 760.5,594.9 761,594.9 761.5,594.9 762,594.9 762.5,595 763,595 763.5,595 764,595 764.5,595 765,595 765.5,595 766,595 766.5,595 767,595 767.5,595 768,595 768.5,595 769,595 769.5,595 770,595 770.5,595 771,594.9 771.5,594.9 772,594.9 772.5,594.9 773,594.8 773.5,594.8 774,594.8 774.5,594.7 775,594.7 775.5,594.6 776,594.6 776.5,594.5 777,594.5 777.5,594.4 778,594.4 778.5,594.3 779,594.3 779.5,594.2 780,594.2 780.5,594.1 781,594.1 781.5,594 782,593.9 782.5,593.9 783,593.8 783.5,593.7 784,593.6 784.5,593.5 785,593.4 785.5,593.3 786,593.2 786.5,593.1 787,592.9 787.5,592.8 788,592.7 788.5,592.5 789,592.3 789.5,592.2 790,592 790.5,591.8 791,591.6 791.5,591.5 792,591.3 792.5,591.1 793,590.9 793.5,590.7 794,590.5 794.5,590.4 795,590.2 795.5,590 796,589.8 796.5,589.6 797,589.4 797.5,589.2 798,589 798.5,588.8 799,588.6 799.5,588.4 800,588.2 800.5,588 801,587.8 801.5,587.6 802,587.3 802.5,587.1 803,586.9 803.5,586.7 804,586.5 804.5,586.2 805,586 805.5,585.8 806,585.5 806.5,585.3 807,585.1 807.5,584.9 808,584.6 808.5,584.4 809,584.2 809.5,584 810,583.7 810.5,583.5 811,583.3 811.5,583.1 812,582.8 812.5,582.6 813,582.4 813.5,582.1 814,581.9 814.5,581.6 815,581.4 815.5,581.2 816,580.9 816.5,580.7 817,580.5 817.5,580.2 818,580 818.5,579.8 819,579.6 819.5,579.4 820,579.2 820.5,579 821,578.8 821.5,578.6 822,578.4 822.5,578.2 823,578 823.5,577.8 824,577.6 824.5,577.4 825,577.2 825.5,577 826,576.9 826.5,576.7 827,576.6 827.5,576.5 828,576.5 828.5,576.6 829,576.7 829.5,576.9 830,577.3 830.5,577.7 831,578.2 831.5,578.8 832,579.5 832.5,580.2 833,580.9 833.5,581.6 834,582.3 834.5,582.9 835,583.6 835.5,584.2 836,584.7 836.5,585.3 837,585.9 837.5,586.5 838,587.1 838.5,587.6 839,588.2 839.5,588.7 840,589.3 840.5,589.8 841,590.2 841.5,590.7 842,591.1 842.5,591.5 843,591.9 843.5,592.3 844,592.7 844.5,593 845,593.4 845.5,593.7 846,594 846.5,594.3 847,594.5 847.5,594.8 848,595 848.5,595.1 849,595.3 849.5,595.4 850,595.6 850.5,595.7 851,595.8 851.5,596 852,596.1 852.5,596.2 853,596.3 853.5,596.4 854,596.5 854.5,596.6 855,596.7 855.5,596.8 856,596.8 856.5,596.9 857,597 857.5,597.1 858,597.2 858.5,597.2 859,597.3 859.5,597.4 860,597.5 860.5,597.5 861,597.6 861.5,597.7 862,597.8 862.5,597.8 863,597.9 863.5,598 864,598.1 864.5,598.1 865,598.2 865.5,598.3 866,598.4 866.5,598.5 867,598.5 867.5,598.6 868,598.7 868.5,598.7 869,598.8 869.5,598.8 870,598.9 870.5,599 871,599 871.5,599 872,599.1 872.5,599.1 873,599.1 873.5,599.2 874,599.2 874.5,599.2 875,599.2 875.5,599.2 876,599.3 876.5,599.3 877,599.3 877.5,599.3 878,599.3 878.5,599.3 879,599.3 879.5,599.3 880,599.4 880.5,599.4 881,599.4 881.5,599.4 882,599.4 882.5,599.4 883,599.4 883.5,599.4 884,599.4 884.5,599.4 885,599.4 885.5,599.5 886,599.5 886.5,599.5 887,599.5 887.5,599.5 888,599.5 888.5,599.5 889,599.5 889.5,599.5 890,599.5 890.5,599.5 891,599.5"/>
<path id="c-blue" d="M60,600 60.5,600 61,600 61.5,600 62,600 62.5,600 63,600 63.5,600 64,600 64.5,600 65,600 65.5,600 66,600 66.5,600 67,600 67.5,600 68,600 68.5,600 69,600 69.5,600 70,600 70.5,600 71,600 71.5,600 72,600 72.5,600 73,600 73.5,600 74,600 74.5,600 75,600 75.5,600 76,600 76.5,600 77,600 77.5,600 78,600 78.5,600 79,600 79.5,600 80,600 80.5,600 81,600 81.5,600 82,600 82.5,600 83,600 83.5,600 84,600 84.5,600 85,600 85.5,600 86,600 86.5,600 87,599.9 87.5,599.9 88,599.9 88.5,599.8 89,599.8 89.5,599.7 90,599.6 90.5,599.6 91,599.5 91.5,599.4 92,599.3 92.5,599.3 93,599.2 93.5,599.1 94,599 94.5,598.9 95,598.8 95.5,598.7 96,598.5 96.5,598.4 97,598.3 97.5,598.1 98,597.9 98.5,597.7 99,597.5 99.5,597.3 100,597 100.5,596.7 101,596.5 101.5,596.2 102,595.8 102.5,595.4 103,595 103.5,594.6 104,594.1 104.5,593.6 105,593 105.5,592.4 106,591.8 106.5,591.1 107,590.3 107.5,589.5 108,588.6 108.5,587.5 109,586.3 109.5,585 110,583.5 110.5,581.8 111,579.9 111.5,577.6 112,575.1 112.5,572.2 113,569 113.5,565.6 114,562 114.5,558.3 115,554.4 115.5,550.2 116,545.6 116.5,540.7 117,535.3 117.5,529.5 118,523.3 118.5,516.8 119,510 119.5,502.9 120,495.8 120.5,488.6 121,481.3 121.5,474.1 122,466.9 122.5,459.8 123,453 123.5,446.6 124,440.7 124.5,435.2 125,430.2 125.5,425.5 126,421.2 126.5,417.3 127,413.8 127.5,410.7 128,408.1 128.5,405.8 129,403.9 129.5,402.3 130,401 130.5,400.2 131,400 131.5,400.2 132,401 132.5,402.2 133,403.9 133.5,406.1 134,409.1 134.5,412.8 135,417.3 135.5,422.6 136,428.4 136.5,434.4 137,440.6 137.5,446.8 138,453.1 138.5,459.4 139,465.7 139.5,472 140,478.1 140.5,484 141,489.7 141.5,495.2 142,500.5 142.5,505.5 143,510.2 143.5,514.6 144,518.6 144.5,522.1 145,525.4 145.5,528.3 146,531.1 146.5,533.7 147,536.1 147.5,538.5 148,540.8 148.5,543.1 149,545.4 149.5,547.7 150,550 150.5,552.2 151,554.3 151.5,556.3 152,558.1 152.5,559.8 153,561.4 153.5,562.9 154,564.3 154.5,565.6 155,566.9 155.5,568.2 156,569.3 156.5,570.4 157,571.5 157.5,572.4 158,573.2 158.5,574 159,574.7 159.5,575.3 160,575.8 160.5,576.3 161,576.8 161.5,577.3 162,577.8 162.5,578.2 163,578.7 163.5,579.1 164,579.4 164.5,579.7 165,580 165.5,580.3 166,580.5 166.5,580.7 167,580.8 167.5,580.9 168,580.9 168.5,580.9 169,580.9 169.5,580.8 170,580.6 170.5,580.5 171,580.3 171.5,580.1 172,579.9 172.5,579.6 173,579.3 173.5,579 174,578.6 174.5,578.2 175,577.7 175.5,577.2 176,576.6 176.5,576 177,575.3 177.5,574.7 178,574 178.5,573.3 179,572.6 179.5,571.9 180,571.1 180.5,570.4 181,569.6 181.5,568.8 182,568 182.5,567.1 183,566.2 183.5,565.2 184,564.3 184.5,563.2 185,562.2 185.5,561.1 186,559.9 186.5,558.7 187,557.5 187.5,556.1 188,554.7 188.5,553.1 189,551.5 189.5,549.7 190,547.6 190.5,545.3 191,542.6 191.5,539.5 192,535.8 192.5,531.6 193,527 193.5,522.1 194,517 194.5,511.8 195,506.6 195.5,501.6 196,496.8 196.5,492.2 197,487.9 197.5,483.8 198,479.8 198.5,476 199,472.2 199.5,468.6 200,465 200.5,461.4 201,457.8 201.5,454.1 202,450.6 202.5,447 203,443.7 203.5,440.7 204,438.1 204.5,435.9 205,434 205.5,432.4 206,430.9 206.5,429.7 207,428.5 207.5,427.5 208,426.6 208.5,426 209,425.5 209.5,425.3 210,425.3 210.5,425.5 211,426 211.5,426.7 212,427.7 212.5,428.8 213,430.1 213.5,431.6 214,433.3 214.5,435.4 215,437.8 215.5,440.6 216,443.5 216.5,446.6 217,449.6 217.5,452.5 218,455.4 218.5,458.3 219,461.2 219.5,464.2 220,467.2 220.5,470.2 221,473.3 221.5,476.5 222,479.7 222.5,482.9 223,486 223.5,489 224,491.8 224.5,494.3 225,496.7 225.5,498.8 226,500.7 226.5,502.4 227,503.9 227.5,505.1 228,506.1 228.5,506.8 229,507.5 229.5,508 230,508.4 230.5,508.7 231,508.8 231.5,508.9 232,508.9 232.5,508.7 233,508.5 233.5,508.2 234,507.8 234.5,507.4 235,506.9 235.5,506.3 236,505.7 236.5,505 237,504.3 237.5,503.6 238,502.9 238.5,502.1 239,501.3 239.5,500.4 240,499.4 240.5,498.3 241,497.2 241.5,495.9 242,494.6 242.5,493.2 243,491.7 243.5,490.3 244,488.7 244.5,487.1 245,485.4 245.5,483.5 246,481.5 246.5,479.2 247,476.8 247.5,474.2 248,471.4 248.5,468.5 249,465.4 249.5,462.2 250,459 250.5,455.9 251,452.9 251.5,449.9 252,446.8 252.5,443.7 253,440.6 253.5,437.4 254,434.1 254.5,430.7 255,427 255.5,423.1 256,418.9 256.5,414.5 257,409.8 257.5,404.6 258,399 258.5,393 259,386.6 259.5,380 260,373.4 260.5,367 261,360.9 261.5,355.4 262,350.4 262.5,346.1 263,342.4 263.5,339.3 264,336.7 264.5,334.6 265,332.8 265.5,331.3 266,330.1 266.5,329.1 267,328.2 267.5,327.4 268,326.8 268.5,326.3 269,326 269.5,325.9 270,326 270.5,326.2 271,326.7 271.5,327.3 272,328 272.5,328.9 273,329.8 273.5,330.9 274,332.1 274.5,333.5 275,335.2 275.5,337.1 276,339.3 276.5,341.8 277,344.8 277.5,348.2 278,352 278.5,356 279,360.2 279.5,364.6 280,369 280.5,373.5 281,378 281.5,382.5 282,386.9 282.5,391.3 283,395.8 283.5,400.4 284,405.1 284.5,409.7 285,414 285.5,417.9 286,421.4 286.5,424.6 287,427.6 287.5,430.5 288,433.5 288.5,436.5 289,439.6 289.5,442.8 290,446 290.5,449.2 291,452.4 291.5,455.6 292,458.7 292.5,461.8 293,465 293.5,468.1 294,471.2 294.5,474.2 295,477.2 295.5,480.2 296,483.1 296.5,486 297,488.7 297.5,491.4 298,494 298.5,496.5 299,499.1 299.5,501.6 300,504.1 300.5,506.7 301,509.2 301.5,511.8 302,514.2 302.5,516.6 303,519 303.5,521.2 304,523.4 304.5,525.5 305,527.5 305.5,529.5 306,531.5 306.5,533.4 307,535.3 307.5,537.1 308,538.8 308.5,540.6 309,542.2 309.5,543.8 310,545.3 310.5,546.8 311,548.3 311.5,549.7 312,551 312.5,552.4 313,553.7 313.5,554.9 314,556.1 314.5,557.3 315,558.4 315.5,559.5 316,560.6 316.5,561.7 317,562.7 317.5,563.7 318,564.7 318.5,565.7 319,566.7 319.5,567.6 320,568.5 320.5,569.4 321,570.3 321.5,571.1 322,571.9 322.5,572.7 323,573.4 323.5,574.1 324,574.7 324.5,575.3 325,575.9 325.5,576.5 326,577 326.5,577.6 327,578.1 327.5,578.6 328,579.1 328.5,579.6 329,580 329.5,580.5 330,580.9 330.5,581.4 331,581.8 331.5,582.2 332,582.6 332.5,582.9 333,583.3 333.5,583.7 334,584 334.5,584.3 335,584.7 335.5,585 336,585.3 336.5,585.6 337,585.9 337.5,586.2 338,586.5 338.5,586.8 339,587.1 339.5,587.4 340,587.6 340.5,587.9 341,588.2 341.5,588.4 342,588.6 342.5,588.9 343,589.1 343.5,589.3 344,589.4 344.5,589.6 345,589.7 345.5,589.9 346,590 346.5,590.1 347,590.2 347.5,590.3 348,590.4 348.5,590.5 349,590.6 349.5,590.7 350,590.7 350.5,590.8 351,590.9 351.5,591 352,591.1 352.5,591.2 353,591.2 353.5,591.3 354,591.4 354.5,591.5 355,591.5 355.5,591.6 356,591.7 356.5,591.7 357,591.8 357.5,591.8 358,591.9 358.5,592 359,592 359.5,592.1 360,592.1 360.5,592.2 361,592.2 361.5,592.2 362,592.3 362.5,592.3 363,592.3 363.5,592.4 364,592.4 364.5,592.4 365,592.4 365.5,592.5 366,592.5 366.5,592.5 367,592.5 367.5,592.5 368,592.5 368.5,592.5 369,592.5 369.5,592.5 370,592.5 370.5,592.5 371,592.5 371.5,592.4 372,592.4 372.5,592.4 373,592.4 373.5,592.4 374,592.3 374.5,592.3 375,592.3 375.5,592.3 376,592.2 376.5,592.2 377,592.2 377.5,592.1 378,592.1 378.5,592.1 379,592 379.5,592 380,592 380.5,591.9 381,591.9 381.5,591.9 382,591.8 382.5,591.8 383,591.7 383.5,591.7 384,591.7 384.5,591.6 385,591.6 385.5,591.6 386,591.5 386.5,591.5 387,591.4 387.5,591.4 388,591.4 388.5,591.3 389,591.3 389.5,591.2 390,591.2 390.5,591.1 391,591.1 391.5,591 392,590.9 392.5,590.9 393,590.8 393.5,590.8 394,590.7 394.5,590.7 395,590.6 395.5,590.5 396,590.5 396.5,590.4 397,590.4 397.5,590.3 398,590.2 398.5,590.2 399,590.1 399.5,590 400,590 400.5,589.9 401,589.9 401.5,589.8 402,589.7 402.5,589.7 403,589.6 403.5,589.6 404,589.5 404.5,589.5 405,589.4 405.5,589.3 406,589.3 406.5,589.2 407,589.2 407.5,589.1 408,589.1 408.5,589 409,589 409.5,588.9 410,588.9 410.5,588.9 411,588.8 411.5,588.8 412,588.7 412.5,588.7 413,588.6 413.5,588.6 414,588.6 414.5,588.5 415,588.5 415.5,588.4 416,588.4 416.5,588.4 417,588.3 417.5,588.3 418,588.2 418.5,588.2 419,588.2 419.5,588.1 420,588.1 420.5,588.1 421,588 421.5,588 422,588 422.5,587.9 423,587.9 423.5,587.9 424,587.8 424.5,587.8 425,587.8 425.5,587.7 426,587.7 426.5,587.7 427,587.6 427.5,587.6 428,587.6 428.5,587.6 429,587.5 429.5,587.5 430,587.5 430.5,587.5 431,587.5 431.5,587.4 432,587.4 432.5,587.4 433,587.4 433.5,587.3 434,587.3 434.5,587.3 435,587.3 435.5,587.3 436,587.2 436.5,587.2 437,587.2 437.5,587.2 438,587.1 438.5,587.1 439,587.1 439.5,587.1 440,587.1 440.5,587 441,587 441.5,587 442,587 442.5,587 443,587 443.5,586.9 444,586.9 444.5,586.9 445,586.9 445.5,586.9 446,586.9 446.5,586.9 447,586.9 447.5,586.8 448,586.8 448.5,586.8 449,586.8 449.5,586.8 450,586.8 450.5,586.8 451,586.8 451.5,586.8 452,586.8 452.5,586.8 453,586.8 453.5,586.8 454,586.8 454.5,586.8 455,586.8 455.5,586.8 456,586.8 456.5,586.8 457,586.8 457.5,586.8 458,586.9 458.5,586.9 459,586.9 459.5,586.9 460,586.9 460.5,586.9 461,586.9 461.5,586.9 462,586.9 462.5,586.9 463,587 463.5,587 464,587 464.5,587 465,587 465.5,587 466,587 466.5,587.1 467,587.1 467.5,587.1 468,587.1 468.5,587.1 469,587.1 469.5,587.2 470,587.2 470.5,587.2 471,587.2 471.5,587.2 472,587.2 472.5,587.3 473,587.3 473.5,587.3 474,587.3 474.5,587.3 475,587.3 475.5,587.4 476,587.4 476.5,587.4 477,587.4 477.5,587.4 478,587.4 478.5,587.5 479,587.5 479.5,587.5 480,587.5 480.5,587.5 481,587.5 481.5,587.5 482,587.6 482.5,587.6 483,587.6 483.5,587.6 484,587.6 484.5,587.7 485,587.7 485.5,587.7 486,587.7 486.5,587.7 487,587.7 487.5,587.8 488,587.8 488.5,587.8 489,587.8 489.5,587.8 490,587.9 490.5,587.9 491,587.9 491.5,587.9 492,588 492.5,588 493,588 493.5,588 494,588 494.5,588.1 495,588.1 495.5,588.1 496,588.1 496.5,588.1 497,588.2 497.5,588.2 498,588.2 498.5,588.2 499,588.3 499.5,588.3 500,588.3 500.5,588.3 501,588.3 501.5,588.4 502,588.4 502.5,588.4 503,588.4 503.5,588.5 504,588.5 504.5,588.5 505,588.5 505.5,588.5 506,588.6 506.5,588.6 507,588.6 507.5,588.6 508,588.6 508.5,588.7 509,588.7 509.5,588.7 510,588.7 510.5,588.7 511,588.7 511.5,588.8 512,588.8 512.5,588.8 513,588.8 513.5,588.8 514,588.8 514.5,588.9 515,588.9 515.5,588.9 516,588.9 516.5,588.9 517,588.9 517.5,588.9 518,589 518.5,589 519,589 519.5,589 520,589 520.5,589 521,589 521.5,589.1 522,589.1 522.5,589.1 523,589.1 523.5,589.1 524,589.1 524.5,589.1 525,589.2 525.5,589.2 526,589.2 526.5,589.2 527,589.2 527.5,589.2 528,589.2 528.5,589.2 529,589.3 529.5,589.3 530,589.3 530.5,589.3 531,589.3 531.5,589.3 532,589.3 532.5,589.4 533,589.4 533.5,589.4 534,589.4 534.5,589.4 535,589.4 535.5,589.4 536,589.4 536.5,589.5 537,589.5 537.5,589.5 538,589.5 538.5,589.5 539,589.5 539.5,589.5 540,589.5 540.5,589.5 541,589.6 541.5,589.6 542,589.6 542.5,589.6 543,589.6 543.5,589.6 544,589.6 544.5,589.6 545,589.6 545.5,589.6 546,589.6 546.5,589.6 547,589.6 547.5,589.7 548,589.7 548.5,589.7 549,589.7 549.5,589.7 550,589.7 550.5,589.7 551,589.7 551.5,589.7 552,589.7 552.5,589.7 553,589.7 553.5,589.7 554,589.7 554.5,589.7 555,589.7 555.5,589.7 556,589.7 556.5,589.7 557,589.7 557.5,589.7 558,589.7 558.5,589.7 559,589.7 559.5,589.7 560,589.7 560.5,589.7 561,589.7 561.5,589.6 562,589.6 562.5,589.6 563,589.6 563.5,589.6 564,589.6 564.5,589.6 565,589.6 565.5,589.6 566,589.6 566.5,589.6 567,589.5 567.5,589.5 568,589.5 568.5,589.5 569,589.5 569.5,589.5 570,589.5 570.5,589.4 571,589.4 571.5,589.4 572,589.4 572.5,589.4 573,589.4 573.5,589.4 574,589.3 574.5,589.3 575,589.3 575.5,589.3 576,589.3 576.5,589.2 577,589.2 577.5,589.2 578,589.1 578.5,589.1 579,589.1 579.5,589 580,589 580.5,588.9 581,588.9 581.5,588.8 582,588.8 582.5,588.8 583,588.7 583.5,588.7 584,588.6 584.5,588.6 585,588.5 585.5,588.5 586,588.5 586.5,588.4 587,588.4 587.5,588.3 588,588.2 588.5,588.2 589,588.1 589.5,588.1 590,588 590.5,587.9 591,587.8 591.5,587.7 592,587.6 592.5,587.5 593,587.4 593.5,587.3 594,587.2 594.5,587.1 595,586.9 595.5,586.8 596,586.7 596.5,586.5 597,586.4 597.5,586.2 598,586.1 598.5,585.9 599,585.8 599.5,585.6 600,585.5 600.5,585.3 601,585.2 601.5,585 602,584.8 602.5,584.6 603,584.5 603.5,584.3 604,584.1 604.5,583.9 605,583.7 605.5,583.5 606,583.3 606.5,583.2 607,583 607.5,582.8 608,582.6 608.5,582.5 609,582.3 609.5,582.1 610,581.9 610.5,581.7 611,581.6 611.5,581.4 612,581.3 612.5,581.2 613,581.1 613.5,581.1 614,581 614.5,581.1 615,581.1 615.5,581.1 616,581.2 616.5,581.3 617,581.4 617.5,581.5 618,581.6 618.5,581.7 619,581.8 619.5,581.9 620,582 620.5,582.1 621,582.3 621.5,582.4 622,582.6 622.5,582.7 623,582.9 623.5,583 624,583.2 624.5,583.3 625,583.4 625.5,583.4 626,583.4 626.5,583.4 627,583.4 627.5,583.4 628,583.3 628.5,583.2 629,583.1 629.5,583 630,582.9 630.5,582.7 631,582.6 631.5,582.5 632,582.3 632.5,582.1 633,582 633.5,581.8 634,581.6 634.5,581.4 635,581.1 635.5,580.9 636,580.6 636.5,580.3 637,580 637.5,579.7 638,579.3 638.5,579 639,578.7 639.5,578.3 640,578 640.5,577.6 641,577.3 641.5,576.9 642,576.5 642.5,576.1 643,575.7 643.5,575.3 644,574.8 644.5,574.4 645,574 645.5,573.6 646,573.2 646.5,572.7 647,572.3 647.5,571.9 648,571.4 648.5,571 649,570.5 649.5,570 650,569.5 650.5,568.9 651,568.3 651.5,567.7 652,567.1 652.5,566.4 653,565.7 653.5,564.9 654,564.1 654.5,563.3 655,562.4 655.5,561.4 656,560.3 656.5,559.1 657,557.9 657.5,556.6 658,555.3 658.5,553.9 659,552.6 659.5,551.3 660,550.1 660.5,548.8 661,547.6 661.5,546.4 662,545.2 662.5,544.1 663,542.9 663.5,541.8 664,540.7 664.5,539.6 665,538.5 665.5,537.5 666,536.4 666.5,535.4 667,534.4 667.5,533.5 668,532.6 668.5,531.8 669,531.1 669.5,530.4 670,529.7 670.5,529.2 671,528.7 671.5,528.3 672,528 672.5,527.9 673,528 673.5,528.3 674,528.7 674.5,529.2 675,529.7 675.5,530.4 676,531.1 676.5,531.8 677,532.6 677.5,533.5 678,534.5 678.5,535.4 679,536.4 679.5,537.5 680,538.5 680.5,539.5 681,540.6 681.5,541.6 682,542.7 682.5,543.7 683,544.8 683.5,546 684,547.1 684.5,548.3 685,549.6 685.5,550.9 686,552.2 686.5,553.6 687,555 687.5,556.4 688,557.9 688.5,559.4 689,560.9 689.5,562.5 690,564.1 690.5,565.8 691,567.5 691.5,569.2 692,570.8 692.5,572.3 693,573.8 693.5,575 694,576.2 694.5,577.3 695,578.4 695.5,579.4 696,580.4 696.5,581.3 697,582.1 697.5,583 698,583.7 698.5,584.5 699,585.2 699.5,585.8 700,586.4 700.5,587 701,587.5 701.5,588 702,588.5 702.5,589 703,589.4 703.5,589.8 704,590.2 704.5,590.6 705,591 705.5,591.4 706,591.8 706.5,592.2 707,592.6 707.5,593 708,593.3 708.5,593.6 709,593.9 709.5,594.2 710,594.5 710.5,594.7 711,594.9 711.5,595.1 712,595.3 712.5,595.4 713,595.6 713.5,595.8 714,595.9 714.5,596.1 715,596.2 715.5,596.4 716,596.5 716.5,596.6 717,596.7 717.5,596.8 718,596.9 718.5,597 719,597.1 719.5,597.1 720,597.2 720.5,597.2 721,597.3 721.5,597.3 722,597.4 722.5,597.4 723,597.5 723.5,597.5 724,597.5 724.5,597.6 725,597.6 725.5,597.6 726,597.7 726.5,597.7 727,597.8 727.5,597.8 728,597.8 728.5,597.8 729,597.9 729.5,597.9 730,597.9 730.5,598 731,598 731.5,598 732,598 732.5,598 733,598.1 733.5,598.1 734,598.1 734.5,598.1 735,598.1 735.5,598.1 736,598.2 736.5,598.2 737,598.2 737.5,598.2 738,598.2 738.5,598.2 739,598.2 739.5,598.2 740,598.2 740.5,598.2 741,598.2 741.5,598.2 742,598.2 742.5,598.2 743,598.2 743.5,598.2 744,598.2 744.5,598.2 745,598.2 745.5,598.2 746,598.2 746.5,598.2 747,598.2 747.5,598.2 748,598.2 748.5,598.2 749,598.2 749.5,598.2 750,598.2 750.5,598.2 751,598.2 751.5,598.2 752,598.2 752.5,598.2 753,598.2 753.5,598.2 754,598.2 754.5,598.2 755,598.2 755.5,598.2 756,598.2 756.5,598.2 757,598.2 757.5,598.2 758,598.2 758.5,598.2 759,598.2 759.5,598.2 760,598.2 760.5,598.2 761,598.2 761.5,598.2 762,598.2 762.5,598.2 763,598.2 763.5,598.2 764,598.2 764.5,598.2 765,598.2 765.5,598.2 766,598.2 766.5,598.2 767,598.2 767.5,598.2 768,598.2 768.5,598.2 769,598.2 769.5,598.2 770,598.2 770.5,598.2 771,598.2 771.5,598.2 772,598.2 772.5,598.2 773,598.2 773.5,598.2 774,598.2 774.5,598.2 775,598.2 775.5,598.2 776,598.2 776.5,598.2 777,598.2 777.5,598.2 778,598.2 778.5,598.2 779,598.2 779.5,598.2 780,598.2 780.5,598.2 781,598.2 781.5,598.2 782,598.2 782.5,598.2 783,598.1 783.5,598.1 784,598.1 784.5,598.1 785,598.1 785.5,598 786,598 786.5,598 787,598 787.5,597.9 788,597.9 788.5,597.9 789,597.8 789.5,597.8 790,597.8 790.5,597.7 791,597.7 791.5,597.6 792,597.6 792.5,597.6 793,597.5 793.5,597.5 794,597.4 794.5,597.4 795,597.4 795.5,597.3 796,597.3 796.5,597.2 797,597.2 797.5,597.2 798,597.1 798.5,597.1 799,597.1 799.5,597 800,597 800.5,597 801,596.9 801.5,596.9 802,596.9 802.5,596.8 803,596.8 803.5,596.7 804,596.7 804.5,596.7 805,596.6 805.5,596.6 806,596.5 806.5,596.5 807,596.4 807.5,596.4 808,596.4 808.5,596.3 809,596.3 809.5,596.2 810,596.2 810.5,596.2 811,596.2 811.5,596.1 812,596.1 812.5,596.1 813,596.1 813.5,596 814,596 814.5,596 815,596 815.5,596 816,596 816.5,596 817,596 817.5,596.1 818,596.1 818.5,596.1 819,596.2 819.5,596.2 820,596.2 820.5,596.3 821,596.4 821.5,596.4 822,596.5 822.5,596.5 823,596.6 823.5,596.7 824,596.7 824.5,596.8 825,596.9 825.5,596.9 826,597 826.5,597.1 827,597.1 827.5,597.2 828,597.3 828.5,597.3 829,597.4 829.5,597.4 830,597.5 830.5,597.6 831,597.6 831.5,597.7 832,597.7 832.5,597.8 833,597.9 833.5,597.9 834,598 834.5,598.1 835,598.2 835.5,598.2 836,598.3 836.5,598.4 837,598.4 837.5,598.5 838,598.6 838.5,598.7 839,598.7 839.5,598.8 840,598.9 840.5,598.9 841,599 841.5,599 842,599.1 842.5,599.2 843,599.2 843.5,599.3 844,599.3 844.5,599.3 845,599.4 845.5,599.4 846,599.4 846.5,599.5 847,599.5 847.5,599.5 848,599.5 848.5,599.5 849,599.5 849.5,599.5 850,599.5 850.5,599.5 851,599.5 851.5,599.5 852,599.5 852.5,599.5 853,599.5 853.5,599.5 854,599.5 854.5,599.5 855,599.5 855.5,599.5 856,599.5 856.5,599.5 857,599.5 857.5,599.5 858,599.5 858.5,599.5 859,599.5 859.5,599.5 860,599.6 860.5,599.6 861,599.6 861.5,599.6 862,599.6 862.5,599.6 863,599.6 863.5,599.6 864,599.6 864.5,599.6 865,599.6 865.5,599.6 866,599.6 866.5,599.6 867,599.6 867.5,599.6 868,599.6 868.5,599.6 869,599.6 869.5,599.6 870,599.6 870.5,599.6 871,599.6 871.5,599.6 872,599.6 872.5,599.6 873,599.6 873.5,599.6 874,599.6 874.5,599.6 875,599.6 875.5,599.6 876,599.6 876.5,599.6 877,599.6 877.5,599.6 878,599.6 878.5,599.6 879,599.6 879.5,599.6 880,599.6 880.5,599.6 881,599.6 881.5,599.6 882,599.6 882.5,599.6 883,599.6 883.5,599.6 884,599.6"/>
<clipPath id="inner"><rect x="57" y="269" width="799.2" height="333.6"/></clipPath>
</defs>
<rect x="0" y="0" width="1000" height="1000" fill="#ffffff"/>
<rect x="57" y="269" width="799.2" height="333.6" fill="#c9c9c9"/>
<rect x="63.5" y="275" width="786.7" height="322.7" fill="#e8e8e8"/>
<g class="dash" clip-path="url(#inner)">
<line x1="55.45" y1="325.5" x2="851" y2="325.5"/>
<line x1="55.45" y1="380" x2="851" y2="380"/>
<line x1="55.45" y1="434.5" x2="851" y2="434.5"/>
<line x1="55.45" y1="490" x2="851" y2="490"/>
<line x1="55.45" y1="544.5" x2="851" y2="544.5"/>
</g>
<g class="vg">
<line x1="158.4" y1="272" x2="158.4" y2="600"/>
<line x1="357.2" y1="272" x2="357.2" y2="600"/>
<line x1="554.8" y1="272" x2="554.8" y2="600"/>
<line x1="751.7" y1="272" x2="751.7" y2="600"/>
</g>
<path fill="#c9c9c9" fill-rule="evenodd" d="M57,269H856.2V602.6H57Z M63.5,275V597.7H850.2V275Z"/>
<g class="halo2" clip-path="url(#inner)">
<use href="#c-pure"/>
<use href="#c-bloom"/>
<use href="#c-grow"/>
<use href="#c-red"/>
<use href="#c-blue"/>
</g>
<g class="halo" clip-path="url(#inner)">
<use href="#c-pure"/>
<use href="#c-bloom"/>
<use href="#c-grow"/>
<use href="#c-red"/>
<use href="#c-blue"/>
</g>
<g class="curves">
<use href="#c-pure" stroke="#22349b"/>
<use href="#c-bloom" stroke="#d4338a"/>
<use href="#c-grow" stroke="#6e3296"/>
<use href="#c-red" stroke="#dc2127"/>
<use href="#c-blue" stroke="#2d69af"/>
</g>
<g fill="#111">
<circle cx="158.4" cy="607" r="3"/>
<circle cx="357.2" cy="607" r="3"/>
<circle cx="554.7" cy="607" r="3"/>
<circle cx="751.9" cy="607" r="3"/>
</g>
<g class="ticks" style="will-change:transform">
<text transform="translate(158.6,649.2) scale(1.02,1.01)">400</text>
<text transform="translate(355.9,649.2) scale(1.02,1.01)">500</text>
<text transform="translate(554.4,649.2) scale(1.02,1.01)">600</text>
<text transform="translate(751.3,649.2) scale(1.02,1.01)">700</text>
</g>
<rect x="62.3" y="667" width="793.3" height="14" rx="7" ry="7" fill="url(#spec)"/>
<g style="will-change:transform"><text class="axis" x="461.1" y="721.8" text-anchor="middle">Wavelength (nm)</text>
<text class="axis" style="font-size:38.8px" transform="translate(41.6,432.6) rotate(-90)" text-anchor="middle">Relative Intensity</text></g>
<g class="legend" style="will-change:transform">
<rect x="869.5" y="274.7" width="16.5" height="15.3" fill="#d4338a"/><text transform="translate(891.8,289.5) scale(1.045,1)">Bloom</text>
<rect x="869.5" y="307" width="16.5" height="15.3" fill="#6e3296"/><text transform="translate(891.8,321.8) scale(1.045,1)">Grow</text>
<rect x="869.5" y="339.3" width="16.5" height="15.3" fill="#dc2127"/><text transform="translate(891.8,354.1) scale(1.045,1)">Red</text>
<rect x="869.5" y="371.5" width="16.5" height="15.3" fill="#2d69af"/><text transform="translate(891.8,386.3) scale(1.045,1)">Blue</text>
<rect x="869.5" y="403.5" width="16.5" height="15.3" fill="#22349b"/><text transform="translate(891.8,418.3) scale(1.045,1)">Pure Blue</text>
</g>
</svg>
</body></html>
